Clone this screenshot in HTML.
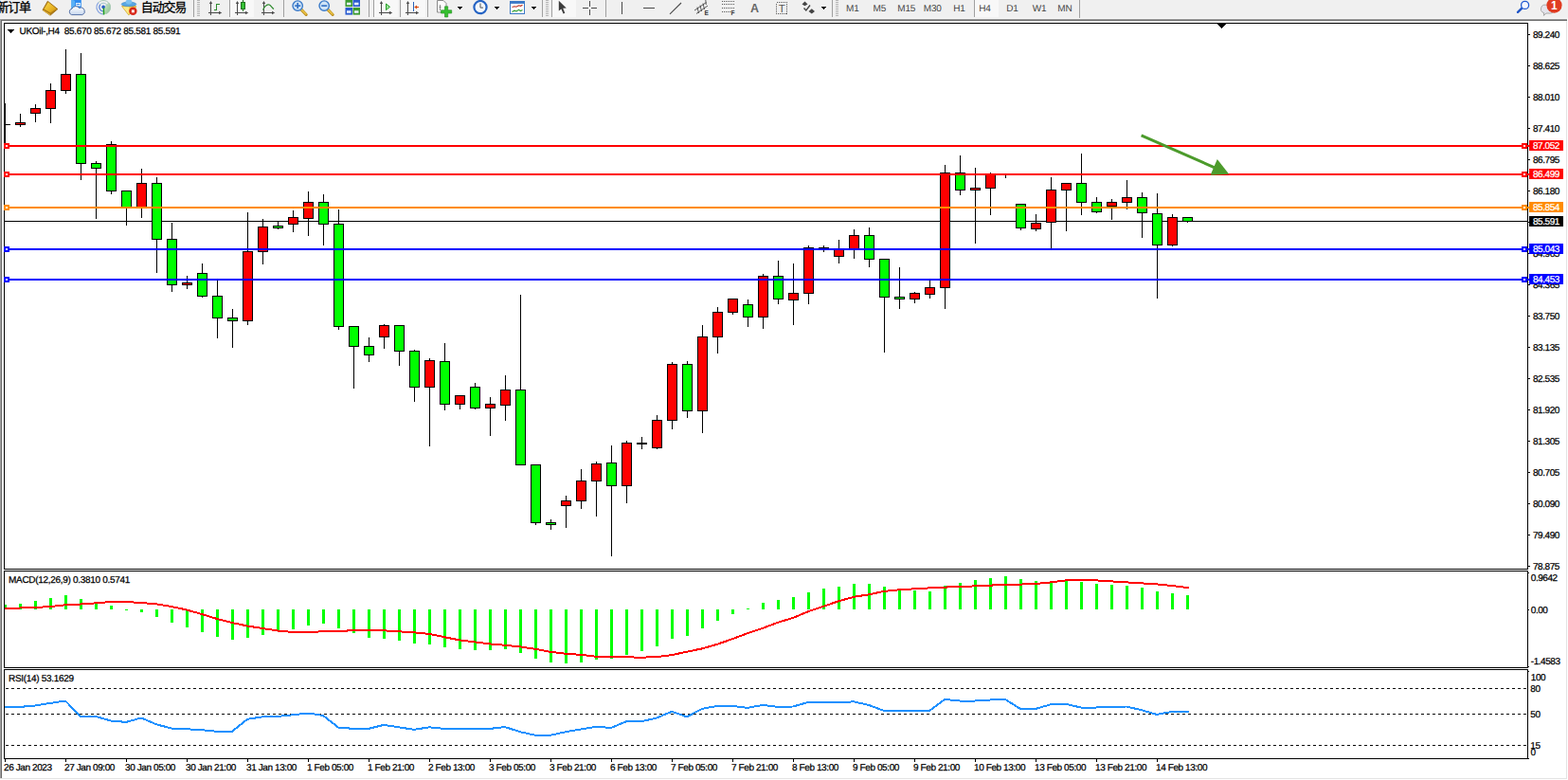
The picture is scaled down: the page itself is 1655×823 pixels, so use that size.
<!DOCTYPE html>
<html><head><meta charset="utf-8"><title>UKOil H4</title>
<style>
html,body{margin:0;padding:0;background:#fff;}
body{width:1655px;height:823px;position:relative;overflow:hidden;font-family:"Liberation Sans",sans-serif;}
.cv{position:absolute;left:0;top:0;}
#tb{position:absolute;left:0;top:0;width:1655px;height:19px;background:#f0f0f0;}
</style></head><body>
<div id="tb"></div>
<svg class="cv" width="1655" height="823" viewBox="0 0 1655 823" shape-rendering="crispEdges">
<rect x="0" y="20" width="1654" height="1" fill="#a0a0a0"/>
<rect x="1" y="21" width="1653" height="1" fill="#696969"/>
<rect x="0" y="20" width="1" height="801" fill="#a0a0a0"/>
<rect x="1" y="21" width="1" height="800" fill="#696969"/>
<rect x="1653" y="22" width="1" height="800" fill="#e3e3e3"/>
<rect x="0" y="821" width="1654" height="1" fill="#e3e3e3"/>
<rect x="0" y="19" width="1655" height="1" fill="#f8f8f8"/>
<rect x="4" y="24" width="1609" height="1" fill="#000"/>
<rect x="4" y="600" width="1609" height="1" fill="#000"/>
<rect x="4" y="24" width="1" height="577" fill="#000"/>
<rect x="1612" y="24" width="1" height="577" fill="#000"/>
<rect x="4" y="602" width="1609" height="1" fill="#000"/>
<rect x="4" y="704" width="1609" height="1" fill="#000"/>
<rect x="4" y="602" width="1" height="103" fill="#000"/>
<rect x="1612" y="602" width="1" height="103" fill="#000"/>
<rect x="4" y="706" width="1609" height="1" fill="#000"/>
<rect x="4" y="800" width="1609" height="1" fill="#000"/>
<rect x="4" y="706" width="1" height="95" fill="#000"/>
<rect x="1612" y="706" width="1" height="95" fill="#000"/>
<rect x="1285" y="25" width="9" height="1" fill="#000"/>
<rect x="1286" y="26" width="7" height="1" fill="#000"/>
<rect x="1287" y="27" width="5" height="1" fill="#000"/>
<rect x="1288" y="28" width="3" height="1" fill="#000"/>
<rect x="1289" y="29" width="1" height="1" fill="#000"/>
<rect x="8" y="31" width="7" height="1" fill="#000"/>
<rect x="9" y="32" width="5" height="1" fill="#000"/>
<rect x="10" y="33" width="3" height="1" fill="#000"/>
<rect x="11" y="34" width="1" height="1" fill="#000"/>
<rect x="1613" y="36" width="2" height="1" fill="#000"/>
<rect x="1613" y="69" width="2" height="1" fill="#000"/>
<rect x="1613" y="102" width="2" height="1" fill="#000"/>
<rect x="1613" y="135" width="2" height="1" fill="#000"/>
<rect x="1613" y="168" width="2" height="1" fill="#000"/>
<rect x="1613" y="201" width="2" height="1" fill="#000"/>
<rect x="1613" y="234" width="2" height="1" fill="#000"/>
<rect x="1613" y="267" width="2" height="1" fill="#000"/>
<rect x="1613" y="300" width="2" height="1" fill="#000"/>
<rect x="1613" y="333" width="2" height="1" fill="#000"/>
<rect x="1613" y="366" width="2" height="1" fill="#000"/>
<rect x="1613" y="399" width="2" height="1" fill="#000"/>
<rect x="1613" y="432" width="2" height="1" fill="#000"/>
<rect x="1613" y="465" width="2" height="1" fill="#000"/>
<rect x="1613" y="498" width="2" height="1" fill="#000"/>
<rect x="1613" y="531" width="2" height="1" fill="#000"/>
<rect x="1613" y="564" width="2" height="1" fill="#000"/>
<rect x="1613" y="597" width="2" height="1" fill="#000"/>
<rect x="1613" y="604" width="1" height="1" fill="#000"/>
<rect x="1613" y="643" width="1" height="1" fill="#000"/>
<rect x="1613" y="703" width="1" height="1" fill="#000"/>
<rect x="1613" y="708" width="1" height="1" fill="#000"/>
<rect x="1613" y="800" width="1" height="1" fill="#000"/>
<rect x="5" y="801" width="1" height="3" fill="#000"/>
<rect x="69" y="801" width="1" height="3" fill="#000"/>
<rect x="133" y="801" width="1" height="3" fill="#000"/>
<rect x="197" y="801" width="1" height="3" fill="#000"/>
<rect x="261" y="801" width="1" height="3" fill="#000"/>
<rect x="325" y="801" width="1" height="3" fill="#000"/>
<rect x="389" y="801" width="1" height="3" fill="#000"/>
<rect x="453" y="801" width="1" height="3" fill="#000"/>
<rect x="517" y="801" width="1" height="3" fill="#000"/>
<rect x="581" y="801" width="1" height="3" fill="#000"/>
<rect x="645" y="801" width="1" height="3" fill="#000"/>
<rect x="709" y="801" width="1" height="3" fill="#000"/>
<rect x="773" y="801" width="1" height="3" fill="#000"/>
<rect x="837" y="801" width="1" height="3" fill="#000"/>
<rect x="901" y="801" width="1" height="3" fill="#000"/>
<rect x="965" y="801" width="1" height="3" fill="#000"/>
<rect x="1029" y="801" width="1" height="3" fill="#000"/>
<rect x="1093" y="801" width="1" height="3" fill="#000"/>
<rect x="1157" y="801" width="1" height="3" fill="#000"/>
<rect x="1221" y="801" width="1" height="3" fill="#000"/>
<rect x="5" y="233" width="1607" height="1" fill="#000"/>
<rect x="5" y="109" width="1" height="44" fill="#000"/>
<rect x="5" y="131" width="6" height="1" fill="#000"/>
<rect x="21" y="120" width="1" height="14" fill="#000"/>
<rect x="16" y="129" width="11" height="3" fill="#000"/>
<rect x="17" y="130" width="9" height="1" fill="#ff0000"/>
<rect x="37" y="110" width="1" height="19" fill="#000"/>
<rect x="32" y="114" width="11" height="6" fill="#000"/>
<rect x="33" y="115" width="9" height="4" fill="#ff0000"/>
<rect x="53" y="88" width="1" height="42" fill="#000"/>
<rect x="48" y="95" width="11" height="20" fill="#000"/>
<rect x="49" y="96" width="9" height="18" fill="#ff0000"/>
<rect x="69" y="52" width="1" height="47" fill="#000"/>
<rect x="64" y="78" width="11" height="18" fill="#000"/>
<rect x="65" y="79" width="9" height="16" fill="#ff0000"/>
<rect x="85" y="56" width="1" height="134" fill="#000"/>
<rect x="80" y="78" width="11" height="95" fill="#000"/>
<rect x="81" y="79" width="9" height="93" fill="#00ff00"/>
<rect x="101" y="170" width="1" height="61" fill="#000"/>
<rect x="96" y="172" width="11" height="6" fill="#000"/>
<rect x="97" y="173" width="9" height="4" fill="#00ff00"/>
<rect x="117" y="149" width="1" height="56" fill="#000"/>
<rect x="112" y="152" width="11" height="50" fill="#000"/>
<rect x="113" y="153" width="9" height="48" fill="#00ff00"/>
<rect x="133" y="201" width="1" height="37" fill="#000"/>
<rect x="128" y="201" width="11" height="18" fill="#000"/>
<rect x="129" y="202" width="9" height="16" fill="#00ff00"/>
<rect x="149" y="178" width="1" height="52" fill="#000"/>
<rect x="144" y="193" width="11" height="26" fill="#000"/>
<rect x="145" y="194" width="9" height="24" fill="#ff0000"/>
<rect x="165" y="187" width="1" height="101" fill="#000"/>
<rect x="160" y="193" width="11" height="60" fill="#000"/>
<rect x="161" y="194" width="9" height="58" fill="#00ff00"/>
<rect x="181" y="235" width="1" height="73" fill="#000"/>
<rect x="176" y="252" width="11" height="49" fill="#000"/>
<rect x="177" y="253" width="9" height="47" fill="#00ff00"/>
<rect x="197" y="291" width="1" height="14" fill="#000"/>
<rect x="192" y="298" width="11" height="3" fill="#000"/>
<rect x="193" y="299" width="9" height="1" fill="#ff0000"/>
<rect x="213" y="278" width="1" height="36" fill="#000"/>
<rect x="208" y="288" width="11" height="25" fill="#000"/>
<rect x="209" y="289" width="9" height="23" fill="#00ff00"/>
<rect x="229" y="296" width="1" height="61" fill="#000"/>
<rect x="224" y="312" width="11" height="24" fill="#000"/>
<rect x="225" y="313" width="9" height="22" fill="#00ff00"/>
<rect x="245" y="326" width="1" height="41" fill="#000"/>
<rect x="240" y="335" width="11" height="4" fill="#000"/>
<rect x="241" y="336" width="9" height="2" fill="#00ff00"/>
<rect x="261" y="224" width="1" height="119" fill="#000"/>
<rect x="256" y="265" width="11" height="74" fill="#000"/>
<rect x="257" y="266" width="9" height="72" fill="#ff0000"/>
<rect x="277" y="231" width="1" height="48" fill="#000"/>
<rect x="272" y="239" width="11" height="27" fill="#000"/>
<rect x="273" y="240" width="9" height="25" fill="#ff0000"/>
<rect x="293" y="234" width="1" height="8" fill="#000"/>
<rect x="288" y="238" width="11" height="3" fill="#000"/>
<rect x="289" y="239" width="9" height="1" fill="#00ff00"/>
<rect x="309" y="222" width="1" height="23" fill="#000"/>
<rect x="304" y="229" width="11" height="8" fill="#000"/>
<rect x="305" y="230" width="9" height="6" fill="#ff0000"/>
<rect x="325" y="202" width="1" height="47" fill="#000"/>
<rect x="320" y="213" width="11" height="18" fill="#000"/>
<rect x="321" y="214" width="9" height="16" fill="#ff0000"/>
<rect x="341" y="205" width="1" height="54" fill="#000"/>
<rect x="336" y="213" width="11" height="24" fill="#000"/>
<rect x="337" y="214" width="9" height="22" fill="#00ff00"/>
<rect x="357" y="221" width="1" height="127" fill="#000"/>
<rect x="352" y="236" width="11" height="109" fill="#000"/>
<rect x="353" y="237" width="9" height="107" fill="#00ff00"/>
<rect x="373" y="344" width="1" height="66" fill="#000"/>
<rect x="368" y="344" width="11" height="22" fill="#000"/>
<rect x="369" y="345" width="9" height="20" fill="#00ff00"/>
<rect x="389" y="356" width="1" height="26" fill="#000"/>
<rect x="384" y="365" width="11" height="10" fill="#000"/>
<rect x="385" y="366" width="9" height="8" fill="#00ff00"/>
<rect x="405" y="342" width="1" height="26" fill="#000"/>
<rect x="400" y="343" width="11" height="13" fill="#000"/>
<rect x="401" y="344" width="9" height="11" fill="#ff0000"/>
<rect x="421" y="343" width="1" height="43" fill="#000"/>
<rect x="416" y="343" width="11" height="28" fill="#000"/>
<rect x="417" y="344" width="9" height="26" fill="#00ff00"/>
<rect x="437" y="369" width="1" height="55" fill="#000"/>
<rect x="432" y="370" width="11" height="39" fill="#000"/>
<rect x="433" y="371" width="9" height="37" fill="#00ff00"/>
<rect x="453" y="378" width="1" height="93" fill="#000"/>
<rect x="448" y="380" width="11" height="29" fill="#000"/>
<rect x="449" y="381" width="9" height="27" fill="#ff0000"/>
<rect x="469" y="362" width="1" height="71" fill="#000"/>
<rect x="464" y="381" width="11" height="46" fill="#000"/>
<rect x="465" y="382" width="9" height="44" fill="#00ff00"/>
<rect x="485" y="417" width="1" height="15" fill="#000"/>
<rect x="480" y="417" width="11" height="10" fill="#000"/>
<rect x="481" y="418" width="9" height="8" fill="#ff0000"/>
<rect x="501" y="404" width="1" height="28" fill="#000"/>
<rect x="496" y="408" width="11" height="23" fill="#000"/>
<rect x="497" y="409" width="9" height="21" fill="#00ff00"/>
<rect x="517" y="419" width="1" height="41" fill="#000"/>
<rect x="512" y="426" width="11" height="5" fill="#000"/>
<rect x="513" y="427" width="9" height="3" fill="#ff0000"/>
<rect x="533" y="396" width="1" height="48" fill="#000"/>
<rect x="528" y="411" width="11" height="17" fill="#000"/>
<rect x="529" y="412" width="9" height="15" fill="#ff0000"/>
<rect x="549" y="311" width="1" height="180" fill="#000"/>
<rect x="544" y="411" width="11" height="80" fill="#000"/>
<rect x="545" y="412" width="9" height="78" fill="#00ff00"/>
<rect x="565" y="490" width="1" height="64" fill="#000"/>
<rect x="560" y="490" width="11" height="62" fill="#000"/>
<rect x="561" y="491" width="9" height="60" fill="#00ff00"/>
<rect x="581" y="548" width="1" height="11" fill="#000"/>
<rect x="576" y="551" width="11" height="3" fill="#000"/>
<rect x="577" y="552" width="9" height="1" fill="#00ff00"/>
<rect x="597" y="523" width="1" height="34" fill="#000"/>
<rect x="592" y="528" width="11" height="6" fill="#000"/>
<rect x="593" y="529" width="9" height="4" fill="#ff0000"/>
<rect x="613" y="495" width="1" height="42" fill="#000"/>
<rect x="608" y="507" width="11" height="22" fill="#000"/>
<rect x="609" y="508" width="9" height="20" fill="#ff0000"/>
<rect x="629" y="487" width="1" height="58" fill="#000"/>
<rect x="624" y="489" width="11" height="19" fill="#000"/>
<rect x="625" y="490" width="9" height="17" fill="#ff0000"/>
<rect x="645" y="470" width="1" height="117" fill="#000"/>
<rect x="640" y="488" width="11" height="25" fill="#000"/>
<rect x="641" y="489" width="9" height="23" fill="#00ff00"/>
<rect x="661" y="465" width="1" height="66" fill="#000"/>
<rect x="656" y="467" width="11" height="46" fill="#000"/>
<rect x="657" y="468" width="9" height="44" fill="#ff0000"/>
<rect x="677" y="461" width="1" height="13" fill="#000"/>
<rect x="672" y="467" width="11" height="2" fill="#000"/>
<rect x="693" y="438" width="1" height="36" fill="#000"/>
<rect x="688" y="443" width="11" height="30" fill="#000"/>
<rect x="689" y="444" width="9" height="28" fill="#ff0000"/>
<rect x="709" y="382" width="1" height="71" fill="#000"/>
<rect x="704" y="384" width="11" height="60" fill="#000"/>
<rect x="705" y="385" width="9" height="58" fill="#ff0000"/>
<rect x="725" y="381" width="1" height="60" fill="#000"/>
<rect x="720" y="384" width="11" height="50" fill="#000"/>
<rect x="721" y="385" width="9" height="48" fill="#00ff00"/>
<rect x="741" y="343" width="1" height="114" fill="#000"/>
<rect x="736" y="355" width="11" height="79" fill="#000"/>
<rect x="737" y="356" width="9" height="77" fill="#ff0000"/>
<rect x="757" y="324" width="1" height="49" fill="#000"/>
<rect x="752" y="329" width="11" height="27" fill="#000"/>
<rect x="753" y="330" width="9" height="25" fill="#ff0000"/>
<rect x="773" y="315" width="1" height="17" fill="#000"/>
<rect x="768" y="315" width="11" height="15" fill="#000"/>
<rect x="769" y="316" width="9" height="13" fill="#ff0000"/>
<rect x="789" y="316" width="1" height="29" fill="#000"/>
<rect x="784" y="321" width="11" height="14" fill="#000"/>
<rect x="785" y="322" width="9" height="12" fill="#00ff00"/>
<rect x="805" y="289" width="1" height="58" fill="#000"/>
<rect x="800" y="291" width="11" height="44" fill="#000"/>
<rect x="801" y="292" width="9" height="42" fill="#ff0000"/>
<rect x="821" y="275" width="1" height="46" fill="#000"/>
<rect x="816" y="291" width="11" height="25" fill="#000"/>
<rect x="817" y="292" width="9" height="23" fill="#00ff00"/>
<rect x="837" y="278" width="1" height="65" fill="#000"/>
<rect x="832" y="309" width="11" height="8" fill="#000"/>
<rect x="833" y="310" width="9" height="6" fill="#ff0000"/>
<rect x="853" y="259" width="1" height="62" fill="#000"/>
<rect x="848" y="261" width="11" height="49" fill="#000"/>
<rect x="849" y="262" width="9" height="47" fill="#ff0000"/>
<rect x="869" y="259" width="1" height="7" fill="#000"/>
<rect x="864" y="261" width="11" height="2" fill="#000"/>
<rect x="885" y="253" width="1" height="25" fill="#000"/>
<rect x="880" y="262" width="11" height="9" fill="#000"/>
<rect x="881" y="263" width="9" height="7" fill="#ff0000"/>
<rect x="901" y="242" width="1" height="31" fill="#000"/>
<rect x="896" y="248" width="11" height="15" fill="#000"/>
<rect x="897" y="249" width="9" height="13" fill="#ff0000"/>
<rect x="917" y="240" width="1" height="42" fill="#000"/>
<rect x="912" y="248" width="11" height="26" fill="#000"/>
<rect x="913" y="249" width="9" height="24" fill="#00ff00"/>
<rect x="933" y="273" width="1" height="99" fill="#000"/>
<rect x="928" y="273" width="11" height="41" fill="#000"/>
<rect x="929" y="274" width="9" height="39" fill="#00ff00"/>
<rect x="949" y="282" width="1" height="44" fill="#000"/>
<rect x="944" y="313" width="11" height="3" fill="#000"/>
<rect x="945" y="314" width="9" height="1" fill="#00ff00"/>
<rect x="965" y="308" width="1" height="12" fill="#000"/>
<rect x="960" y="309" width="11" height="7" fill="#000"/>
<rect x="961" y="310" width="9" height="5" fill="#ff0000"/>
<rect x="981" y="296" width="1" height="19" fill="#000"/>
<rect x="976" y="303" width="11" height="8" fill="#000"/>
<rect x="977" y="304" width="9" height="6" fill="#ff0000"/>
<rect x="997" y="174" width="1" height="152" fill="#000"/>
<rect x="992" y="182" width="11" height="122" fill="#000"/>
<rect x="993" y="183" width="9" height="120" fill="#ff0000"/>
<rect x="1013" y="164" width="1" height="42" fill="#000"/>
<rect x="1008" y="182" width="11" height="19" fill="#000"/>
<rect x="1009" y="183" width="9" height="17" fill="#00ff00"/>
<rect x="1029" y="177" width="1" height="80" fill="#000"/>
<rect x="1024" y="198" width="11" height="3" fill="#000"/>
<rect x="1025" y="199" width="9" height="1" fill="#ff0000"/>
<rect x="1045" y="182" width="1" height="45" fill="#000"/>
<rect x="1040" y="183" width="11" height="16" fill="#000"/>
<rect x="1041" y="184" width="9" height="14" fill="#ff0000"/>
<rect x="1061" y="183" width="1" height="5" fill="#000"/>
<rect x="1056" y="184" width="11" height="1" fill="#000"/>
<rect x="1077" y="215" width="1" height="28" fill="#000"/>
<rect x="1072" y="215" width="11" height="26" fill="#000"/>
<rect x="1073" y="216" width="9" height="24" fill="#00ff00"/>
<rect x="1093" y="226" width="1" height="18" fill="#000"/>
<rect x="1088" y="235" width="11" height="7" fill="#000"/>
<rect x="1089" y="236" width="9" height="5" fill="#ff0000"/>
<rect x="1109" y="187" width="1" height="76" fill="#000"/>
<rect x="1104" y="200" width="11" height="35" fill="#000"/>
<rect x="1105" y="201" width="9" height="33" fill="#ff0000"/>
<rect x="1125" y="193" width="1" height="51" fill="#000"/>
<rect x="1120" y="193" width="11" height="8" fill="#000"/>
<rect x="1121" y="194" width="9" height="6" fill="#ff0000"/>
<rect x="1141" y="162" width="1" height="65" fill="#000"/>
<rect x="1136" y="193" width="11" height="21" fill="#000"/>
<rect x="1137" y="194" width="9" height="19" fill="#00ff00"/>
<rect x="1157" y="208" width="1" height="17" fill="#000"/>
<rect x="1152" y="213" width="11" height="11" fill="#000"/>
<rect x="1153" y="214" width="9" height="9" fill="#00ff00"/>
<rect x="1173" y="210" width="1" height="22" fill="#000"/>
<rect x="1168" y="213" width="11" height="5" fill="#000"/>
<rect x="1169" y="214" width="9" height="3" fill="#ff0000"/>
<rect x="1189" y="190" width="1" height="31" fill="#000"/>
<rect x="1184" y="208" width="11" height="6" fill="#000"/>
<rect x="1185" y="209" width="9" height="4" fill="#ff0000"/>
<rect x="1205" y="203" width="1" height="48" fill="#000"/>
<rect x="1200" y="208" width="11" height="17" fill="#000"/>
<rect x="1201" y="209" width="9" height="15" fill="#00ff00"/>
<rect x="1221" y="204" width="1" height="111" fill="#000"/>
<rect x="1216" y="225" width="11" height="34" fill="#000"/>
<rect x="1217" y="226" width="9" height="32" fill="#00ff00"/>
<rect x="1237" y="226" width="1" height="34" fill="#000"/>
<rect x="1232" y="229" width="11" height="30" fill="#000"/>
<rect x="1233" y="230" width="9" height="28" fill="#ff0000"/>
<rect x="1253" y="229" width="1" height="6" fill="#000"/>
<rect x="1248" y="229" width="11" height="5" fill="#000"/>
<rect x="1249" y="230" width="9" height="3" fill="#00ff00"/>
<g font-family="Liberation Sans, sans-serif" font-size="10" letter-spacing="-0.45" text-rendering="geometricPrecision">
<text x="1618" y="40" fill="#000" stroke="#000" stroke-width="0.25">89.240</text>
<text x="1618" y="73" fill="#000" stroke="#000" stroke-width="0.25">88.625</text>
<text x="1618" y="106" fill="#000" stroke="#000" stroke-width="0.25">88.010</text>
<text x="1618" y="139" fill="#000" stroke="#000" stroke-width="0.25">87.410</text>
<text x="1618" y="172" fill="#000" stroke="#000" stroke-width="0.25">86.795</text>
<text x="1618" y="205" fill="#000" stroke="#000" stroke-width="0.25">86.180</text>
<text x="1618" y="238" fill="#000" stroke="#000" stroke-width="0.25">85.565</text>
<text x="1618" y="271" fill="#000" stroke="#000" stroke-width="0.25">84.965</text>
<text x="1618" y="304" fill="#000" stroke="#000" stroke-width="0.25">84.365</text>
<text x="1618" y="337" fill="#000" stroke="#000" stroke-width="0.25">83.750</text>
<text x="1618" y="370" fill="#000" stroke="#000" stroke-width="0.25">83.135</text>
<text x="1618" y="403" fill="#000" stroke="#000" stroke-width="0.25">82.535</text>
<text x="1618" y="436" fill="#000" stroke="#000" stroke-width="0.25">81.920</text>
<text x="1618" y="469" fill="#000" stroke="#000" stroke-width="0.25">81.305</text>
<text x="1618" y="502" fill="#000" stroke="#000" stroke-width="0.25">80.705</text>
<text x="1618" y="535" fill="#000" stroke="#000" stroke-width="0.25">80.090</text>
<text x="1618" y="568" fill="#000" stroke="#000" stroke-width="0.25">79.490</text>
<text x="1618" y="601" fill="#000" stroke="#000" stroke-width="0.25">78.875</text>
</g>
<rect x="5" y="153" width="1609" height="2" fill="#ff0000"/>
<rect x="4" y="151" width="6" height="6" fill="#ff0000"/>
<rect x="6" y="153" width="2" height="2" fill="#fff"/>
<rect x="1606" y="151" width="6" height="6" fill="#ff0000"/>
<rect x="1608" y="153" width="2" height="2" fill="#fff"/>
<rect x="1614" y="148" width="36" height="11" fill="#ff0000"/>
<rect x="5" y="183" width="1609" height="2" fill="#ff0000"/>
<rect x="4" y="181" width="6" height="6" fill="#ff0000"/>
<rect x="6" y="183" width="2" height="2" fill="#fff"/>
<rect x="1606" y="181" width="6" height="6" fill="#ff0000"/>
<rect x="1608" y="183" width="2" height="2" fill="#fff"/>
<rect x="1614" y="178" width="36" height="11" fill="#ff0000"/>
<rect x="5" y="218" width="1609" height="2" fill="#ff8c00"/>
<rect x="4" y="216" width="6" height="6" fill="#ff8c00"/>
<rect x="6" y="218" width="2" height="2" fill="#fff"/>
<rect x="1606" y="216" width="6" height="6" fill="#ff8c00"/>
<rect x="1608" y="218" width="2" height="2" fill="#fff"/>
<rect x="1614" y="213" width="36" height="11" fill="#ff8c00"/>
<rect x="5" y="262" width="1609" height="2" fill="#0000ff"/>
<rect x="4" y="260" width="6" height="6" fill="#0000ff"/>
<rect x="6" y="262" width="2" height="2" fill="#fff"/>
<rect x="1606" y="260" width="6" height="6" fill="#0000ff"/>
<rect x="1608" y="262" width="2" height="2" fill="#fff"/>
<rect x="1614" y="257" width="36" height="11" fill="#0000ff"/>
<rect x="5" y="294" width="1609" height="2" fill="#0000ff"/>
<rect x="4" y="292" width="6" height="6" fill="#0000ff"/>
<rect x="6" y="294" width="2" height="2" fill="#fff"/>
<rect x="1606" y="292" width="6" height="6" fill="#0000ff"/>
<rect x="1608" y="294" width="2" height="2" fill="#fff"/>
<rect x="1614" y="289" width="36" height="11" fill="#0000ff"/>
<rect x="1614" y="228" width="36" height="11" fill="#000"/>
<rect x="5" y="638" width="2" height="5" fill="#00ff00"/>
<rect x="20" y="637" width="3" height="6" fill="#00ff00"/>
<rect x="36" y="634" width="3" height="9" fill="#00ff00"/>
<rect x="52" y="631" width="3" height="12" fill="#00ff00"/>
<rect x="68" y="628" width="3" height="15" fill="#00ff00"/>
<rect x="84" y="632" width="3" height="11" fill="#00ff00"/>
<rect x="100" y="635" width="3" height="8" fill="#00ff00"/>
<rect x="116" y="639" width="3" height="4" fill="#00ff00"/>
<rect x="132" y="643" width="3" height="1" fill="#00ff00"/>
<rect x="148" y="643" width="3" height="3" fill="#00ff00"/>
<rect x="164" y="643" width="3" height="8" fill="#00ff00"/>
<rect x="180" y="643" width="3" height="14" fill="#00ff00"/>
<rect x="196" y="643" width="3" height="19" fill="#00ff00"/>
<rect x="212" y="643" width="3" height="24" fill="#00ff00"/>
<rect x="228" y="643" width="3" height="29" fill="#00ff00"/>
<rect x="244" y="643" width="3" height="32" fill="#00ff00"/>
<rect x="260" y="643" width="3" height="30" fill="#00ff00"/>
<rect x="276" y="643" width="3" height="27" fill="#00ff00"/>
<rect x="292" y="643" width="3" height="23" fill="#00ff00"/>
<rect x="308" y="643" width="3" height="21" fill="#00ff00"/>
<rect x="324" y="643" width="3" height="17" fill="#00ff00"/>
<rect x="340" y="643" width="3" height="15" fill="#00ff00"/>
<rect x="356" y="643" width="3" height="20" fill="#00ff00"/>
<rect x="372" y="643" width="3" height="25" fill="#00ff00"/>
<rect x="388" y="643" width="3" height="30" fill="#00ff00"/>
<rect x="404" y="643" width="3" height="31" fill="#00ff00"/>
<rect x="420" y="643" width="3" height="33" fill="#00ff00"/>
<rect x="436" y="643" width="3" height="36" fill="#00ff00"/>
<rect x="452" y="643" width="3" height="37" fill="#00ff00"/>
<rect x="468" y="643" width="3" height="40" fill="#00ff00"/>
<rect x="484" y="643" width="3" height="42" fill="#00ff00"/>
<rect x="500" y="643" width="3" height="43" fill="#00ff00"/>
<rect x="516" y="643" width="3" height="43" fill="#00ff00"/>
<rect x="532" y="643" width="3" height="42" fill="#00ff00"/>
<rect x="548" y="643" width="3" height="46" fill="#00ff00"/>
<rect x="564" y="643" width="3" height="52" fill="#00ff00"/>
<rect x="580" y="643" width="3" height="56" fill="#00ff00"/>
<rect x="596" y="643" width="3" height="57" fill="#00ff00"/>
<rect x="612" y="643" width="3" height="56" fill="#00ff00"/>
<rect x="628" y="643" width="3" height="53" fill="#00ff00"/>
<rect x="644" y="643" width="3" height="52" fill="#00ff00"/>
<rect x="660" y="643" width="3" height="48" fill="#00ff00"/>
<rect x="676" y="643" width="3" height="44" fill="#00ff00"/>
<rect x="692" y="643" width="3" height="39" fill="#00ff00"/>
<rect x="708" y="643" width="3" height="31" fill="#00ff00"/>
<rect x="724" y="643" width="3" height="28" fill="#00ff00"/>
<rect x="740" y="643" width="3" height="20" fill="#00ff00"/>
<rect x="756" y="643" width="3" height="12" fill="#00ff00"/>
<rect x="772" y="643" width="3" height="5" fill="#00ff00"/>
<rect x="788" y="642" width="3" height="1" fill="#00ff00"/>
<rect x="804" y="636" width="3" height="7" fill="#00ff00"/>
<rect x="820" y="633" width="3" height="10" fill="#00ff00"/>
<rect x="836" y="630" width="3" height="13" fill="#00ff00"/>
<rect x="852" y="625" width="3" height="18" fill="#00ff00"/>
<rect x="868" y="621" width="3" height="22" fill="#00ff00"/>
<rect x="884" y="619" width="3" height="24" fill="#00ff00"/>
<rect x="900" y="616" width="3" height="27" fill="#00ff00"/>
<rect x="916" y="616" width="3" height="27" fill="#00ff00"/>
<rect x="932" y="619" width="3" height="24" fill="#00ff00"/>
<rect x="948" y="621" width="3" height="22" fill="#00ff00"/>
<rect x="964" y="623" width="3" height="20" fill="#00ff00"/>
<rect x="980" y="624" width="3" height="19" fill="#00ff00"/>
<rect x="996" y="618" width="3" height="25" fill="#00ff00"/>
<rect x="1012" y="615" width="3" height="28" fill="#00ff00"/>
<rect x="1028" y="612" width="3" height="31" fill="#00ff00"/>
<rect x="1044" y="610" width="3" height="33" fill="#00ff00"/>
<rect x="1060" y="608" width="3" height="35" fill="#00ff00"/>
<rect x="1076" y="611" width="3" height="32" fill="#00ff00"/>
<rect x="1092" y="613" width="3" height="30" fill="#00ff00"/>
<rect x="1108" y="613" width="3" height="30" fill="#00ff00"/>
<rect x="1124" y="612" width="3" height="31" fill="#00ff00"/>
<rect x="1140" y="614" width="3" height="29" fill="#00ff00"/>
<rect x="1156" y="616" width="3" height="27" fill="#00ff00"/>
<rect x="1172" y="617" width="3" height="26" fill="#00ff00"/>
<rect x="1188" y="618" width="3" height="25" fill="#00ff00"/>
<rect x="1204" y="620" width="3" height="23" fill="#00ff00"/>
<rect x="1220" y="624" width="3" height="19" fill="#00ff00"/>
<rect x="1236" y="626" width="3" height="17" fill="#00ff00"/>
<rect x="1252" y="628" width="3" height="15" fill="#00ff00"/>
<rect x="6" y="726" width="3" height="1" fill="#000"/>
<rect x="12" y="726" width="3" height="1" fill="#000"/>
<rect x="18" y="726" width="3" height="1" fill="#000"/>
<rect x="24" y="726" width="3" height="1" fill="#000"/>
<rect x="30" y="726" width="3" height="1" fill="#000"/>
<rect x="36" y="726" width="3" height="1" fill="#000"/>
<rect x="42" y="726" width="3" height="1" fill="#000"/>
<rect x="48" y="726" width="3" height="1" fill="#000"/>
<rect x="54" y="726" width="3" height="1" fill="#000"/>
<rect x="60" y="726" width="3" height="1" fill="#000"/>
<rect x="66" y="726" width="3" height="1" fill="#000"/>
<rect x="72" y="726" width="3" height="1" fill="#000"/>
<rect x="78" y="726" width="3" height="1" fill="#000"/>
<rect x="84" y="726" width="3" height="1" fill="#000"/>
<rect x="90" y="726" width="3" height="1" fill="#000"/>
<rect x="96" y="726" width="3" height="1" fill="#000"/>
<rect x="102" y="726" width="3" height="1" fill="#000"/>
<rect x="108" y="726" width="3" height="1" fill="#000"/>
<rect x="114" y="726" width="3" height="1" fill="#000"/>
<rect x="120" y="726" width="3" height="1" fill="#000"/>
<rect x="126" y="726" width="3" height="1" fill="#000"/>
<rect x="132" y="726" width="3" height="1" fill="#000"/>
<rect x="138" y="726" width="3" height="1" fill="#000"/>
<rect x="144" y="726" width="3" height="1" fill="#000"/>
<rect x="150" y="726" width="3" height="1" fill="#000"/>
<rect x="156" y="726" width="3" height="1" fill="#000"/>
<rect x="162" y="726" width="3" height="1" fill="#000"/>
<rect x="168" y="726" width="3" height="1" fill="#000"/>
<rect x="174" y="726" width="3" height="1" fill="#000"/>
<rect x="180" y="726" width="3" height="1" fill="#000"/>
<rect x="186" y="726" width="3" height="1" fill="#000"/>
<rect x="192" y="726" width="3" height="1" fill="#000"/>
<rect x="198" y="726" width="3" height="1" fill="#000"/>
<rect x="204" y="726" width="3" height="1" fill="#000"/>
<rect x="210" y="726" width="3" height="1" fill="#000"/>
<rect x="216" y="726" width="3" height="1" fill="#000"/>
<rect x="222" y="726" width="3" height="1" fill="#000"/>
<rect x="228" y="726" width="3" height="1" fill="#000"/>
<rect x="234" y="726" width="3" height="1" fill="#000"/>
<rect x="240" y="726" width="3" height="1" fill="#000"/>
<rect x="246" y="726" width="3" height="1" fill="#000"/>
<rect x="252" y="726" width="3" height="1" fill="#000"/>
<rect x="258" y="726" width="3" height="1" fill="#000"/>
<rect x="264" y="726" width="3" height="1" fill="#000"/>
<rect x="270" y="726" width="3" height="1" fill="#000"/>
<rect x="276" y="726" width="3" height="1" fill="#000"/>
<rect x="282" y="726" width="3" height="1" fill="#000"/>
<rect x="288" y="726" width="3" height="1" fill="#000"/>
<rect x="294" y="726" width="3" height="1" fill="#000"/>
<rect x="300" y="726" width="3" height="1" fill="#000"/>
<rect x="306" y="726" width="3" height="1" fill="#000"/>
<rect x="312" y="726" width="3" height="1" fill="#000"/>
<rect x="318" y="726" width="3" height="1" fill="#000"/>
<rect x="324" y="726" width="3" height="1" fill="#000"/>
<rect x="330" y="726" width="3" height="1" fill="#000"/>
<rect x="336" y="726" width="3" height="1" fill="#000"/>
<rect x="342" y="726" width="3" height="1" fill="#000"/>
<rect x="348" y="726" width="3" height="1" fill="#000"/>
<rect x="354" y="726" width="3" height="1" fill="#000"/>
<rect x="360" y="726" width="3" height="1" fill="#000"/>
<rect x="366" y="726" width="3" height="1" fill="#000"/>
<rect x="372" y="726" width="3" height="1" fill="#000"/>
<rect x="378" y="726" width="3" height="1" fill="#000"/>
<rect x="384" y="726" width="3" height="1" fill="#000"/>
<rect x="390" y="726" width="3" height="1" fill="#000"/>
<rect x="396" y="726" width="3" height="1" fill="#000"/>
<rect x="402" y="726" width="3" height="1" fill="#000"/>
<rect x="408" y="726" width="3" height="1" fill="#000"/>
<rect x="414" y="726" width="3" height="1" fill="#000"/>
<rect x="420" y="726" width="3" height="1" fill="#000"/>
<rect x="426" y="726" width="3" height="1" fill="#000"/>
<rect x="432" y="726" width="3" height="1" fill="#000"/>
<rect x="438" y="726" width="3" height="1" fill="#000"/>
<rect x="444" y="726" width="3" height="1" fill="#000"/>
<rect x="450" y="726" width="3" height="1" fill="#000"/>
<rect x="456" y="726" width="3" height="1" fill="#000"/>
<rect x="462" y="726" width="3" height="1" fill="#000"/>
<rect x="468" y="726" width="3" height="1" fill="#000"/>
<rect x="474" y="726" width="3" height="1" fill="#000"/>
<rect x="480" y="726" width="3" height="1" fill="#000"/>
<rect x="486" y="726" width="3" height="1" fill="#000"/>
<rect x="492" y="726" width="3" height="1" fill="#000"/>
<rect x="498" y="726" width="3" height="1" fill="#000"/>
<rect x="504" y="726" width="3" height="1" fill="#000"/>
<rect x="510" y="726" width="3" height="1" fill="#000"/>
<rect x="516" y="726" width="3" height="1" fill="#000"/>
<rect x="522" y="726" width="3" height="1" fill="#000"/>
<rect x="528" y="726" width="3" height="1" fill="#000"/>
<rect x="534" y="726" width="3" height="1" fill="#000"/>
<rect x="540" y="726" width="3" height="1" fill="#000"/>
<rect x="546" y="726" width="3" height="1" fill="#000"/>
<rect x="552" y="726" width="3" height="1" fill="#000"/>
<rect x="558" y="726" width="3" height="1" fill="#000"/>
<rect x="564" y="726" width="3" height="1" fill="#000"/>
<rect x="570" y="726" width="3" height="1" fill="#000"/>
<rect x="576" y="726" width="3" height="1" fill="#000"/>
<rect x="582" y="726" width="3" height="1" fill="#000"/>
<rect x="588" y="726" width="3" height="1" fill="#000"/>
<rect x="594" y="726" width="3" height="1" fill="#000"/>
<rect x="600" y="726" width="3" height="1" fill="#000"/>
<rect x="606" y="726" width="3" height="1" fill="#000"/>
<rect x="612" y="726" width="3" height="1" fill="#000"/>
<rect x="618" y="726" width="3" height="1" fill="#000"/>
<rect x="624" y="726" width="3" height="1" fill="#000"/>
<rect x="630" y="726" width="3" height="1" fill="#000"/>
<rect x="636" y="726" width="3" height="1" fill="#000"/>
<rect x="642" y="726" width="3" height="1" fill="#000"/>
<rect x="648" y="726" width="3" height="1" fill="#000"/>
<rect x="654" y="726" width="3" height="1" fill="#000"/>
<rect x="660" y="726" width="3" height="1" fill="#000"/>
<rect x="666" y="726" width="3" height="1" fill="#000"/>
<rect x="672" y="726" width="3" height="1" fill="#000"/>
<rect x="678" y="726" width="3" height="1" fill="#000"/>
<rect x="684" y="726" width="3" height="1" fill="#000"/>
<rect x="690" y="726" width="3" height="1" fill="#000"/>
<rect x="696" y="726" width="3" height="1" fill="#000"/>
<rect x="702" y="726" width="3" height="1" fill="#000"/>
<rect x="708" y="726" width="3" height="1" fill="#000"/>
<rect x="714" y="726" width="3" height="1" fill="#000"/>
<rect x="720" y="726" width="3" height="1" fill="#000"/>
<rect x="726" y="726" width="3" height="1" fill="#000"/>
<rect x="732" y="726" width="3" height="1" fill="#000"/>
<rect x="738" y="726" width="3" height="1" fill="#000"/>
<rect x="744" y="726" width="3" height="1" fill="#000"/>
<rect x="750" y="726" width="3" height="1" fill="#000"/>
<rect x="756" y="726" width="3" height="1" fill="#000"/>
<rect x="762" y="726" width="3" height="1" fill="#000"/>
<rect x="768" y="726" width="3" height="1" fill="#000"/>
<rect x="774" y="726" width="3" height="1" fill="#000"/>
<rect x="780" y="726" width="3" height="1" fill="#000"/>
<rect x="786" y="726" width="3" height="1" fill="#000"/>
<rect x="792" y="726" width="3" height="1" fill="#000"/>
<rect x="798" y="726" width="3" height="1" fill="#000"/>
<rect x="804" y="726" width="3" height="1" fill="#000"/>
<rect x="810" y="726" width="3" height="1" fill="#000"/>
<rect x="816" y="726" width="3" height="1" fill="#000"/>
<rect x="822" y="726" width="3" height="1" fill="#000"/>
<rect x="828" y="726" width="3" height="1" fill="#000"/>
<rect x="834" y="726" width="3" height="1" fill="#000"/>
<rect x="840" y="726" width="3" height="1" fill="#000"/>
<rect x="846" y="726" width="3" height="1" fill="#000"/>
<rect x="852" y="726" width="3" height="1" fill="#000"/>
<rect x="858" y="726" width="3" height="1" fill="#000"/>
<rect x="864" y="726" width="3" height="1" fill="#000"/>
<rect x="870" y="726" width="3" height="1" fill="#000"/>
<rect x="876" y="726" width="3" height="1" fill="#000"/>
<rect x="882" y="726" width="3" height="1" fill="#000"/>
<rect x="888" y="726" width="3" height="1" fill="#000"/>
<rect x="894" y="726" width="3" height="1" fill="#000"/>
<rect x="900" y="726" width="3" height="1" fill="#000"/>
<rect x="906" y="726" width="3" height="1" fill="#000"/>
<rect x="912" y="726" width="3" height="1" fill="#000"/>
<rect x="918" y="726" width="3" height="1" fill="#000"/>
<rect x="924" y="726" width="3" height="1" fill="#000"/>
<rect x="930" y="726" width="3" height="1" fill="#000"/>
<rect x="936" y="726" width="3" height="1" fill="#000"/>
<rect x="942" y="726" width="3" height="1" fill="#000"/>
<rect x="948" y="726" width="3" height="1" fill="#000"/>
<rect x="954" y="726" width="3" height="1" fill="#000"/>
<rect x="960" y="726" width="3" height="1" fill="#000"/>
<rect x="966" y="726" width="3" height="1" fill="#000"/>
<rect x="972" y="726" width="3" height="1" fill="#000"/>
<rect x="978" y="726" width="3" height="1" fill="#000"/>
<rect x="984" y="726" width="3" height="1" fill="#000"/>
<rect x="990" y="726" width="3" height="1" fill="#000"/>
<rect x="996" y="726" width="3" height="1" fill="#000"/>
<rect x="1002" y="726" width="3" height="1" fill="#000"/>
<rect x="1008" y="726" width="3" height="1" fill="#000"/>
<rect x="1014" y="726" width="3" height="1" fill="#000"/>
<rect x="1020" y="726" width="3" height="1" fill="#000"/>
<rect x="1026" y="726" width="3" height="1" fill="#000"/>
<rect x="1032" y="726" width="3" height="1" fill="#000"/>
<rect x="1038" y="726" width="3" height="1" fill="#000"/>
<rect x="1044" y="726" width="3" height="1" fill="#000"/>
<rect x="1050" y="726" width="3" height="1" fill="#000"/>
<rect x="1056" y="726" width="3" height="1" fill="#000"/>
<rect x="1062" y="726" width="3" height="1" fill="#000"/>
<rect x="1068" y="726" width="3" height="1" fill="#000"/>
<rect x="1074" y="726" width="3" height="1" fill="#000"/>
<rect x="1080" y="726" width="3" height="1" fill="#000"/>
<rect x="1086" y="726" width="3" height="1" fill="#000"/>
<rect x="1092" y="726" width="3" height="1" fill="#000"/>
<rect x="1098" y="726" width="3" height="1" fill="#000"/>
<rect x="1104" y="726" width="3" height="1" fill="#000"/>
<rect x="1110" y="726" width="3" height="1" fill="#000"/>
<rect x="1116" y="726" width="3" height="1" fill="#000"/>
<rect x="1122" y="726" width="3" height="1" fill="#000"/>
<rect x="1128" y="726" width="3" height="1" fill="#000"/>
<rect x="1134" y="726" width="3" height="1" fill="#000"/>
<rect x="1140" y="726" width="3" height="1" fill="#000"/>
<rect x="1146" y="726" width="3" height="1" fill="#000"/>
<rect x="1152" y="726" width="3" height="1" fill="#000"/>
<rect x="1158" y="726" width="3" height="1" fill="#000"/>
<rect x="1164" y="726" width="3" height="1" fill="#000"/>
<rect x="1170" y="726" width="3" height="1" fill="#000"/>
<rect x="1176" y="726" width="3" height="1" fill="#000"/>
<rect x="1182" y="726" width="3" height="1" fill="#000"/>
<rect x="1188" y="726" width="3" height="1" fill="#000"/>
<rect x="1194" y="726" width="3" height="1" fill="#000"/>
<rect x="1200" y="726" width="3" height="1" fill="#000"/>
<rect x="1206" y="726" width="3" height="1" fill="#000"/>
<rect x="1212" y="726" width="3" height="1" fill="#000"/>
<rect x="1218" y="726" width="3" height="1" fill="#000"/>
<rect x="1224" y="726" width="3" height="1" fill="#000"/>
<rect x="1230" y="726" width="3" height="1" fill="#000"/>
<rect x="1236" y="726" width="3" height="1" fill="#000"/>
<rect x="1242" y="726" width="3" height="1" fill="#000"/>
<rect x="1248" y="726" width="3" height="1" fill="#000"/>
<rect x="1254" y="726" width="3" height="1" fill="#000"/>
<rect x="1260" y="726" width="3" height="1" fill="#000"/>
<rect x="1266" y="726" width="3" height="1" fill="#000"/>
<rect x="1272" y="726" width="3" height="1" fill="#000"/>
<rect x="1278" y="726" width="3" height="1" fill="#000"/>
<rect x="1284" y="726" width="3" height="1" fill="#000"/>
<rect x="1290" y="726" width="3" height="1" fill="#000"/>
<rect x="1296" y="726" width="3" height="1" fill="#000"/>
<rect x="1302" y="726" width="3" height="1" fill="#000"/>
<rect x="1308" y="726" width="3" height="1" fill="#000"/>
<rect x="1314" y="726" width="3" height="1" fill="#000"/>
<rect x="1320" y="726" width="3" height="1" fill="#000"/>
<rect x="1326" y="726" width="3" height="1" fill="#000"/>
<rect x="1332" y="726" width="3" height="1" fill="#000"/>
<rect x="1338" y="726" width="3" height="1" fill="#000"/>
<rect x="1344" y="726" width="3" height="1" fill="#000"/>
<rect x="1350" y="726" width="3" height="1" fill="#000"/>
<rect x="1356" y="726" width="3" height="1" fill="#000"/>
<rect x="1362" y="726" width="3" height="1" fill="#000"/>
<rect x="1368" y="726" width="3" height="1" fill="#000"/>
<rect x="1374" y="726" width="3" height="1" fill="#000"/>
<rect x="1380" y="726" width="3" height="1" fill="#000"/>
<rect x="1386" y="726" width="3" height="1" fill="#000"/>
<rect x="1392" y="726" width="3" height="1" fill="#000"/>
<rect x="1398" y="726" width="3" height="1" fill="#000"/>
<rect x="1404" y="726" width="3" height="1" fill="#000"/>
<rect x="1410" y="726" width="3" height="1" fill="#000"/>
<rect x="1416" y="726" width="3" height="1" fill="#000"/>
<rect x="1422" y="726" width="3" height="1" fill="#000"/>
<rect x="1428" y="726" width="3" height="1" fill="#000"/>
<rect x="1434" y="726" width="3" height="1" fill="#000"/>
<rect x="1440" y="726" width="3" height="1" fill="#000"/>
<rect x="1446" y="726" width="3" height="1" fill="#000"/>
<rect x="1452" y="726" width="3" height="1" fill="#000"/>
<rect x="1458" y="726" width="3" height="1" fill="#000"/>
<rect x="1464" y="726" width="3" height="1" fill="#000"/>
<rect x="1470" y="726" width="3" height="1" fill="#000"/>
<rect x="1476" y="726" width="3" height="1" fill="#000"/>
<rect x="1482" y="726" width="3" height="1" fill="#000"/>
<rect x="1488" y="726" width="3" height="1" fill="#000"/>
<rect x="1494" y="726" width="3" height="1" fill="#000"/>
<rect x="1500" y="726" width="3" height="1" fill="#000"/>
<rect x="1506" y="726" width="3" height="1" fill="#000"/>
<rect x="1512" y="726" width="3" height="1" fill="#000"/>
<rect x="1518" y="726" width="3" height="1" fill="#000"/>
<rect x="1524" y="726" width="3" height="1" fill="#000"/>
<rect x="1530" y="726" width="3" height="1" fill="#000"/>
<rect x="1536" y="726" width="3" height="1" fill="#000"/>
<rect x="1542" y="726" width="3" height="1" fill="#000"/>
<rect x="1548" y="726" width="3" height="1" fill="#000"/>
<rect x="1554" y="726" width="3" height="1" fill="#000"/>
<rect x="1560" y="726" width="3" height="1" fill="#000"/>
<rect x="1566" y="726" width="3" height="1" fill="#000"/>
<rect x="1572" y="726" width="3" height="1" fill="#000"/>
<rect x="1578" y="726" width="3" height="1" fill="#000"/>
<rect x="1584" y="726" width="3" height="1" fill="#000"/>
<rect x="1590" y="726" width="3" height="1" fill="#000"/>
<rect x="1596" y="726" width="3" height="1" fill="#000"/>
<rect x="1602" y="726" width="3" height="1" fill="#000"/>
<rect x="1608" y="726" width="3" height="1" fill="#000"/>
<rect x="6" y="753" width="3" height="1" fill="#000"/>
<rect x="12" y="753" width="3" height="1" fill="#000"/>
<rect x="18" y="753" width="3" height="1" fill="#000"/>
<rect x="24" y="753" width="3" height="1" fill="#000"/>
<rect x="30" y="753" width="3" height="1" fill="#000"/>
<rect x="36" y="753" width="3" height="1" fill="#000"/>
<rect x="42" y="753" width="3" height="1" fill="#000"/>
<rect x="48" y="753" width="3" height="1" fill="#000"/>
<rect x="54" y="753" width="3" height="1" fill="#000"/>
<rect x="60" y="753" width="3" height="1" fill="#000"/>
<rect x="66" y="753" width="3" height="1" fill="#000"/>
<rect x="72" y="753" width="3" height="1" fill="#000"/>
<rect x="78" y="753" width="3" height="1" fill="#000"/>
<rect x="84" y="753" width="3" height="1" fill="#000"/>
<rect x="90" y="753" width="3" height="1" fill="#000"/>
<rect x="96" y="753" width="3" height="1" fill="#000"/>
<rect x="102" y="753" width="3" height="1" fill="#000"/>
<rect x="108" y="753" width="3" height="1" fill="#000"/>
<rect x="114" y="753" width="3" height="1" fill="#000"/>
<rect x="120" y="753" width="3" height="1" fill="#000"/>
<rect x="126" y="753" width="3" height="1" fill="#000"/>
<rect x="132" y="753" width="3" height="1" fill="#000"/>
<rect x="138" y="753" width="3" height="1" fill="#000"/>
<rect x="144" y="753" width="3" height="1" fill="#000"/>
<rect x="150" y="753" width="3" height="1" fill="#000"/>
<rect x="156" y="753" width="3" height="1" fill="#000"/>
<rect x="162" y="753" width="3" height="1" fill="#000"/>
<rect x="168" y="753" width="3" height="1" fill="#000"/>
<rect x="174" y="753" width="3" height="1" fill="#000"/>
<rect x="180" y="753" width="3" height="1" fill="#000"/>
<rect x="186" y="753" width="3" height="1" fill="#000"/>
<rect x="192" y="753" width="3" height="1" fill="#000"/>
<rect x="198" y="753" width="3" height="1" fill="#000"/>
<rect x="204" y="753" width="3" height="1" fill="#000"/>
<rect x="210" y="753" width="3" height="1" fill="#000"/>
<rect x="216" y="753" width="3" height="1" fill="#000"/>
<rect x="222" y="753" width="3" height="1" fill="#000"/>
<rect x="228" y="753" width="3" height="1" fill="#000"/>
<rect x="234" y="753" width="3" height="1" fill="#000"/>
<rect x="240" y="753" width="3" height="1" fill="#000"/>
<rect x="246" y="753" width="3" height="1" fill="#000"/>
<rect x="252" y="753" width="3" height="1" fill="#000"/>
<rect x="258" y="753" width="3" height="1" fill="#000"/>
<rect x="264" y="753" width="3" height="1" fill="#000"/>
<rect x="270" y="753" width="3" height="1" fill="#000"/>
<rect x="276" y="753" width="3" height="1" fill="#000"/>
<rect x="282" y="753" width="3" height="1" fill="#000"/>
<rect x="288" y="753" width="3" height="1" fill="#000"/>
<rect x="294" y="753" width="3" height="1" fill="#000"/>
<rect x="300" y="753" width="3" height="1" fill="#000"/>
<rect x="306" y="753" width="3" height="1" fill="#000"/>
<rect x="312" y="753" width="3" height="1" fill="#000"/>
<rect x="318" y="753" width="3" height="1" fill="#000"/>
<rect x="324" y="753" width="3" height="1" fill="#000"/>
<rect x="330" y="753" width="3" height="1" fill="#000"/>
<rect x="336" y="753" width="3" height="1" fill="#000"/>
<rect x="342" y="753" width="3" height="1" fill="#000"/>
<rect x="348" y="753" width="3" height="1" fill="#000"/>
<rect x="354" y="753" width="3" height="1" fill="#000"/>
<rect x="360" y="753" width="3" height="1" fill="#000"/>
<rect x="366" y="753" width="3" height="1" fill="#000"/>
<rect x="372" y="753" width="3" height="1" fill="#000"/>
<rect x="378" y="753" width="3" height="1" fill="#000"/>
<rect x="384" y="753" width="3" height="1" fill="#000"/>
<rect x="390" y="753" width="3" height="1" fill="#000"/>
<rect x="396" y="753" width="3" height="1" fill="#000"/>
<rect x="402" y="753" width="3" height="1" fill="#000"/>
<rect x="408" y="753" width="3" height="1" fill="#000"/>
<rect x="414" y="753" width="3" height="1" fill="#000"/>
<rect x="420" y="753" width="3" height="1" fill="#000"/>
<rect x="426" y="753" width="3" height="1" fill="#000"/>
<rect x="432" y="753" width="3" height="1" fill="#000"/>
<rect x="438" y="753" width="3" height="1" fill="#000"/>
<rect x="444" y="753" width="3" height="1" fill="#000"/>
<rect x="450" y="753" width="3" height="1" fill="#000"/>
<rect x="456" y="753" width="3" height="1" fill="#000"/>
<rect x="462" y="753" width="3" height="1" fill="#000"/>
<rect x="468" y="753" width="3" height="1" fill="#000"/>
<rect x="474" y="753" width="3" height="1" fill="#000"/>
<rect x="480" y="753" width="3" height="1" fill="#000"/>
<rect x="486" y="753" width="3" height="1" fill="#000"/>
<rect x="492" y="753" width="3" height="1" fill="#000"/>
<rect x="498" y="753" width="3" height="1" fill="#000"/>
<rect x="504" y="753" width="3" height="1" fill="#000"/>
<rect x="510" y="753" width="3" height="1" fill="#000"/>
<rect x="516" y="753" width="3" height="1" fill="#000"/>
<rect x="522" y="753" width="3" height="1" fill="#000"/>
<rect x="528" y="753" width="3" height="1" fill="#000"/>
<rect x="534" y="753" width="3" height="1" fill="#000"/>
<rect x="540" y="753" width="3" height="1" fill="#000"/>
<rect x="546" y="753" width="3" height="1" fill="#000"/>
<rect x="552" y="753" width="3" height="1" fill="#000"/>
<rect x="558" y="753" width="3" height="1" fill="#000"/>
<rect x="564" y="753" width="3" height="1" fill="#000"/>
<rect x="570" y="753" width="3" height="1" fill="#000"/>
<rect x="576" y="753" width="3" height="1" fill="#000"/>
<rect x="582" y="753" width="3" height="1" fill="#000"/>
<rect x="588" y="753" width="3" height="1" fill="#000"/>
<rect x="594" y="753" width="3" height="1" fill="#000"/>
<rect x="600" y="753" width="3" height="1" fill="#000"/>
<rect x="606" y="753" width="3" height="1" fill="#000"/>
<rect x="612" y="753" width="3" height="1" fill="#000"/>
<rect x="618" y="753" width="3" height="1" fill="#000"/>
<rect x="624" y="753" width="3" height="1" fill="#000"/>
<rect x="630" y="753" width="3" height="1" fill="#000"/>
<rect x="636" y="753" width="3" height="1" fill="#000"/>
<rect x="642" y="753" width="3" height="1" fill="#000"/>
<rect x="648" y="753" width="3" height="1" fill="#000"/>
<rect x="654" y="753" width="3" height="1" fill="#000"/>
<rect x="660" y="753" width="3" height="1" fill="#000"/>
<rect x="666" y="753" width="3" height="1" fill="#000"/>
<rect x="672" y="753" width="3" height="1" fill="#000"/>
<rect x="678" y="753" width="3" height="1" fill="#000"/>
<rect x="684" y="753" width="3" height="1" fill="#000"/>
<rect x="690" y="753" width="3" height="1" fill="#000"/>
<rect x="696" y="753" width="3" height="1" fill="#000"/>
<rect x="702" y="753" width="3" height="1" fill="#000"/>
<rect x="708" y="753" width="3" height="1" fill="#000"/>
<rect x="714" y="753" width="3" height="1" fill="#000"/>
<rect x="720" y="753" width="3" height="1" fill="#000"/>
<rect x="726" y="753" width="3" height="1" fill="#000"/>
<rect x="732" y="753" width="3" height="1" fill="#000"/>
<rect x="738" y="753" width="3" height="1" fill="#000"/>
<rect x="744" y="753" width="3" height="1" fill="#000"/>
<rect x="750" y="753" width="3" height="1" fill="#000"/>
<rect x="756" y="753" width="3" height="1" fill="#000"/>
<rect x="762" y="753" width="3" height="1" fill="#000"/>
<rect x="768" y="753" width="3" height="1" fill="#000"/>
<rect x="774" y="753" width="3" height="1" fill="#000"/>
<rect x="780" y="753" width="3" height="1" fill="#000"/>
<rect x="786" y="753" width="3" height="1" fill="#000"/>
<rect x="792" y="753" width="3" height="1" fill="#000"/>
<rect x="798" y="753" width="3" height="1" fill="#000"/>
<rect x="804" y="753" width="3" height="1" fill="#000"/>
<rect x="810" y="753" width="3" height="1" fill="#000"/>
<rect x="816" y="753" width="3" height="1" fill="#000"/>
<rect x="822" y="753" width="3" height="1" fill="#000"/>
<rect x="828" y="753" width="3" height="1" fill="#000"/>
<rect x="834" y="753" width="3" height="1" fill="#000"/>
<rect x="840" y="753" width="3" height="1" fill="#000"/>
<rect x="846" y="753" width="3" height="1" fill="#000"/>
<rect x="852" y="753" width="3" height="1" fill="#000"/>
<rect x="858" y="753" width="3" height="1" fill="#000"/>
<rect x="864" y="753" width="3" height="1" fill="#000"/>
<rect x="870" y="753" width="3" height="1" fill="#000"/>
<rect x="876" y="753" width="3" height="1" fill="#000"/>
<rect x="882" y="753" width="3" height="1" fill="#000"/>
<rect x="888" y="753" width="3" height="1" fill="#000"/>
<rect x="894" y="753" width="3" height="1" fill="#000"/>
<rect x="900" y="753" width="3" height="1" fill="#000"/>
<rect x="906" y="753" width="3" height="1" fill="#000"/>
<rect x="912" y="753" width="3" height="1" fill="#000"/>
<rect x="918" y="753" width="3" height="1" fill="#000"/>
<rect x="924" y="753" width="3" height="1" fill="#000"/>
<rect x="930" y="753" width="3" height="1" fill="#000"/>
<rect x="936" y="753" width="3" height="1" fill="#000"/>
<rect x="942" y="753" width="3" height="1" fill="#000"/>
<rect x="948" y="753" width="3" height="1" fill="#000"/>
<rect x="954" y="753" width="3" height="1" fill="#000"/>
<rect x="960" y="753" width="3" height="1" fill="#000"/>
<rect x="966" y="753" width="3" height="1" fill="#000"/>
<rect x="972" y="753" width="3" height="1" fill="#000"/>
<rect x="978" y="753" width="3" height="1" fill="#000"/>
<rect x="984" y="753" width="3" height="1" fill="#000"/>
<rect x="990" y="753" width="3" height="1" fill="#000"/>
<rect x="996" y="753" width="3" height="1" fill="#000"/>
<rect x="1002" y="753" width="3" height="1" fill="#000"/>
<rect x="1008" y="753" width="3" height="1" fill="#000"/>
<rect x="1014" y="753" width="3" height="1" fill="#000"/>
<rect x="1020" y="753" width="3" height="1" fill="#000"/>
<rect x="1026" y="753" width="3" height="1" fill="#000"/>
<rect x="1032" y="753" width="3" height="1" fill="#000"/>
<rect x="1038" y="753" width="3" height="1" fill="#000"/>
<rect x="1044" y="753" width="3" height="1" fill="#000"/>
<rect x="1050" y="753" width="3" height="1" fill="#000"/>
<rect x="1056" y="753" width="3" height="1" fill="#000"/>
<rect x="1062" y="753" width="3" height="1" fill="#000"/>
<rect x="1068" y="753" width="3" height="1" fill="#000"/>
<rect x="1074" y="753" width="3" height="1" fill="#000"/>
<rect x="1080" y="753" width="3" height="1" fill="#000"/>
<rect x="1086" y="753" width="3" height="1" fill="#000"/>
<rect x="1092" y="753" width="3" height="1" fill="#000"/>
<rect x="1098" y="753" width="3" height="1" fill="#000"/>
<rect x="1104" y="753" width="3" height="1" fill="#000"/>
<rect x="1110" y="753" width="3" height="1" fill="#000"/>
<rect x="1116" y="753" width="3" height="1" fill="#000"/>
<rect x="1122" y="753" width="3" height="1" fill="#000"/>
<rect x="1128" y="753" width="3" height="1" fill="#000"/>
<rect x="1134" y="753" width="3" height="1" fill="#000"/>
<rect x="1140" y="753" width="3" height="1" fill="#000"/>
<rect x="1146" y="753" width="3" height="1" fill="#000"/>
<rect x="1152" y="753" width="3" height="1" fill="#000"/>
<rect x="1158" y="753" width="3" height="1" fill="#000"/>
<rect x="1164" y="753" width="3" height="1" fill="#000"/>
<rect x="1170" y="753" width="3" height="1" fill="#000"/>
<rect x="1176" y="753" width="3" height="1" fill="#000"/>
<rect x="1182" y="753" width="3" height="1" fill="#000"/>
<rect x="1188" y="753" width="3" height="1" fill="#000"/>
<rect x="1194" y="753" width="3" height="1" fill="#000"/>
<rect x="1200" y="753" width="3" height="1" fill="#000"/>
<rect x="1206" y="753" width="3" height="1" fill="#000"/>
<rect x="1212" y="753" width="3" height="1" fill="#000"/>
<rect x="1218" y="753" width="3" height="1" fill="#000"/>
<rect x="1224" y="753" width="3" height="1" fill="#000"/>
<rect x="1230" y="753" width="3" height="1" fill="#000"/>
<rect x="1236" y="753" width="3" height="1" fill="#000"/>
<rect x="1242" y="753" width="3" height="1" fill="#000"/>
<rect x="1248" y="753" width="3" height="1" fill="#000"/>
<rect x="1254" y="753" width="3" height="1" fill="#000"/>
<rect x="1260" y="753" width="3" height="1" fill="#000"/>
<rect x="1266" y="753" width="3" height="1" fill="#000"/>
<rect x="1272" y="753" width="3" height="1" fill="#000"/>
<rect x="1278" y="753" width="3" height="1" fill="#000"/>
<rect x="1284" y="753" width="3" height="1" fill="#000"/>
<rect x="1290" y="753" width="3" height="1" fill="#000"/>
<rect x="1296" y="753" width="3" height="1" fill="#000"/>
<rect x="1302" y="753" width="3" height="1" fill="#000"/>
<rect x="1308" y="753" width="3" height="1" fill="#000"/>
<rect x="1314" y="753" width="3" height="1" fill="#000"/>
<rect x="1320" y="753" width="3" height="1" fill="#000"/>
<rect x="1326" y="753" width="3" height="1" fill="#000"/>
<rect x="1332" y="753" width="3" height="1" fill="#000"/>
<rect x="1338" y="753" width="3" height="1" fill="#000"/>
<rect x="1344" y="753" width="3" height="1" fill="#000"/>
<rect x="1350" y="753" width="3" height="1" fill="#000"/>
<rect x="1356" y="753" width="3" height="1" fill="#000"/>
<rect x="1362" y="753" width="3" height="1" fill="#000"/>
<rect x="1368" y="753" width="3" height="1" fill="#000"/>
<rect x="1374" y="753" width="3" height="1" fill="#000"/>
<rect x="1380" y="753" width="3" height="1" fill="#000"/>
<rect x="1386" y="753" width="3" height="1" fill="#000"/>
<rect x="1392" y="753" width="3" height="1" fill="#000"/>
<rect x="1398" y="753" width="3" height="1" fill="#000"/>
<rect x="1404" y="753" width="3" height="1" fill="#000"/>
<rect x="1410" y="753" width="3" height="1" fill="#000"/>
<rect x="1416" y="753" width="3" height="1" fill="#000"/>
<rect x="1422" y="753" width="3" height="1" fill="#000"/>
<rect x="1428" y="753" width="3" height="1" fill="#000"/>
<rect x="1434" y="753" width="3" height="1" fill="#000"/>
<rect x="1440" y="753" width="3" height="1" fill="#000"/>
<rect x="1446" y="753" width="3" height="1" fill="#000"/>
<rect x="1452" y="753" width="3" height="1" fill="#000"/>
<rect x="1458" y="753" width="3" height="1" fill="#000"/>
<rect x="1464" y="753" width="3" height="1" fill="#000"/>
<rect x="1470" y="753" width="3" height="1" fill="#000"/>
<rect x="1476" y="753" width="3" height="1" fill="#000"/>
<rect x="1482" y="753" width="3" height="1" fill="#000"/>
<rect x="1488" y="753" width="3" height="1" fill="#000"/>
<rect x="1494" y="753" width="3" height="1" fill="#000"/>
<rect x="1500" y="753" width="3" height="1" fill="#000"/>
<rect x="1506" y="753" width="3" height="1" fill="#000"/>
<rect x="1512" y="753" width="3" height="1" fill="#000"/>
<rect x="1518" y="753" width="3" height="1" fill="#000"/>
<rect x="1524" y="753" width="3" height="1" fill="#000"/>
<rect x="1530" y="753" width="3" height="1" fill="#000"/>
<rect x="1536" y="753" width="3" height="1" fill="#000"/>
<rect x="1542" y="753" width="3" height="1" fill="#000"/>
<rect x="1548" y="753" width="3" height="1" fill="#000"/>
<rect x="1554" y="753" width="3" height="1" fill="#000"/>
<rect x="1560" y="753" width="3" height="1" fill="#000"/>
<rect x="1566" y="753" width="3" height="1" fill="#000"/>
<rect x="1572" y="753" width="3" height="1" fill="#000"/>
<rect x="1578" y="753" width="3" height="1" fill="#000"/>
<rect x="1584" y="753" width="3" height="1" fill="#000"/>
<rect x="1590" y="753" width="3" height="1" fill="#000"/>
<rect x="1596" y="753" width="3" height="1" fill="#000"/>
<rect x="1602" y="753" width="3" height="1" fill="#000"/>
<rect x="1608" y="753" width="3" height="1" fill="#000"/>
<rect x="6" y="786" width="3" height="1" fill="#000"/>
<rect x="12" y="786" width="3" height="1" fill="#000"/>
<rect x="18" y="786" width="3" height="1" fill="#000"/>
<rect x="24" y="786" width="3" height="1" fill="#000"/>
<rect x="30" y="786" width="3" height="1" fill="#000"/>
<rect x="36" y="786" width="3" height="1" fill="#000"/>
<rect x="42" y="786" width="3" height="1" fill="#000"/>
<rect x="48" y="786" width="3" height="1" fill="#000"/>
<rect x="54" y="786" width="3" height="1" fill="#000"/>
<rect x="60" y="786" width="3" height="1" fill="#000"/>
<rect x="66" y="786" width="3" height="1" fill="#000"/>
<rect x="72" y="786" width="3" height="1" fill="#000"/>
<rect x="78" y="786" width="3" height="1" fill="#000"/>
<rect x="84" y="786" width="3" height="1" fill="#000"/>
<rect x="90" y="786" width="3" height="1" fill="#000"/>
<rect x="96" y="786" width="3" height="1" fill="#000"/>
<rect x="102" y="786" width="3" height="1" fill="#000"/>
<rect x="108" y="786" width="3" height="1" fill="#000"/>
<rect x="114" y="786" width="3" height="1" fill="#000"/>
<rect x="120" y="786" width="3" height="1" fill="#000"/>
<rect x="126" y="786" width="3" height="1" fill="#000"/>
<rect x="132" y="786" width="3" height="1" fill="#000"/>
<rect x="138" y="786" width="3" height="1" fill="#000"/>
<rect x="144" y="786" width="3" height="1" fill="#000"/>
<rect x="150" y="786" width="3" height="1" fill="#000"/>
<rect x="156" y="786" width="3" height="1" fill="#000"/>
<rect x="162" y="786" width="3" height="1" fill="#000"/>
<rect x="168" y="786" width="3" height="1" fill="#000"/>
<rect x="174" y="786" width="3" height="1" fill="#000"/>
<rect x="180" y="786" width="3" height="1" fill="#000"/>
<rect x="186" y="786" width="3" height="1" fill="#000"/>
<rect x="192" y="786" width="3" height="1" fill="#000"/>
<rect x="198" y="786" width="3" height="1" fill="#000"/>
<rect x="204" y="786" width="3" height="1" fill="#000"/>
<rect x="210" y="786" width="3" height="1" fill="#000"/>
<rect x="216" y="786" width="3" height="1" fill="#000"/>
<rect x="222" y="786" width="3" height="1" fill="#000"/>
<rect x="228" y="786" width="3" height="1" fill="#000"/>
<rect x="234" y="786" width="3" height="1" fill="#000"/>
<rect x="240" y="786" width="3" height="1" fill="#000"/>
<rect x="246" y="786" width="3" height="1" fill="#000"/>
<rect x="252" y="786" width="3" height="1" fill="#000"/>
<rect x="258" y="786" width="3" height="1" fill="#000"/>
<rect x="264" y="786" width="3" height="1" fill="#000"/>
<rect x="270" y="786" width="3" height="1" fill="#000"/>
<rect x="276" y="786" width="3" height="1" fill="#000"/>
<rect x="282" y="786" width="3" height="1" fill="#000"/>
<rect x="288" y="786" width="3" height="1" fill="#000"/>
<rect x="294" y="786" width="3" height="1" fill="#000"/>
<rect x="300" y="786" width="3" height="1" fill="#000"/>
<rect x="306" y="786" width="3" height="1" fill="#000"/>
<rect x="312" y="786" width="3" height="1" fill="#000"/>
<rect x="318" y="786" width="3" height="1" fill="#000"/>
<rect x="324" y="786" width="3" height="1" fill="#000"/>
<rect x="330" y="786" width="3" height="1" fill="#000"/>
<rect x="336" y="786" width="3" height="1" fill="#000"/>
<rect x="342" y="786" width="3" height="1" fill="#000"/>
<rect x="348" y="786" width="3" height="1" fill="#000"/>
<rect x="354" y="786" width="3" height="1" fill="#000"/>
<rect x="360" y="786" width="3" height="1" fill="#000"/>
<rect x="366" y="786" width="3" height="1" fill="#000"/>
<rect x="372" y="786" width="3" height="1" fill="#000"/>
<rect x="378" y="786" width="3" height="1" fill="#000"/>
<rect x="384" y="786" width="3" height="1" fill="#000"/>
<rect x="390" y="786" width="3" height="1" fill="#000"/>
<rect x="396" y="786" width="3" height="1" fill="#000"/>
<rect x="402" y="786" width="3" height="1" fill="#000"/>
<rect x="408" y="786" width="3" height="1" fill="#000"/>
<rect x="414" y="786" width="3" height="1" fill="#000"/>
<rect x="420" y="786" width="3" height="1" fill="#000"/>
<rect x="426" y="786" width="3" height="1" fill="#000"/>
<rect x="432" y="786" width="3" height="1" fill="#000"/>
<rect x="438" y="786" width="3" height="1" fill="#000"/>
<rect x="444" y="786" width="3" height="1" fill="#000"/>
<rect x="450" y="786" width="3" height="1" fill="#000"/>
<rect x="456" y="786" width="3" height="1" fill="#000"/>
<rect x="462" y="786" width="3" height="1" fill="#000"/>
<rect x="468" y="786" width="3" height="1" fill="#000"/>
<rect x="474" y="786" width="3" height="1" fill="#000"/>
<rect x="480" y="786" width="3" height="1" fill="#000"/>
<rect x="486" y="786" width="3" height="1" fill="#000"/>
<rect x="492" y="786" width="3" height="1" fill="#000"/>
<rect x="498" y="786" width="3" height="1" fill="#000"/>
<rect x="504" y="786" width="3" height="1" fill="#000"/>
<rect x="510" y="786" width="3" height="1" fill="#000"/>
<rect x="516" y="786" width="3" height="1" fill="#000"/>
<rect x="522" y="786" width="3" height="1" fill="#000"/>
<rect x="528" y="786" width="3" height="1" fill="#000"/>
<rect x="534" y="786" width="3" height="1" fill="#000"/>
<rect x="540" y="786" width="3" height="1" fill="#000"/>
<rect x="546" y="786" width="3" height="1" fill="#000"/>
<rect x="552" y="786" width="3" height="1" fill="#000"/>
<rect x="558" y="786" width="3" height="1" fill="#000"/>
<rect x="564" y="786" width="3" height="1" fill="#000"/>
<rect x="570" y="786" width="3" height="1" fill="#000"/>
<rect x="576" y="786" width="3" height="1" fill="#000"/>
<rect x="582" y="786" width="3" height="1" fill="#000"/>
<rect x="588" y="786" width="3" height="1" fill="#000"/>
<rect x="594" y="786" width="3" height="1" fill="#000"/>
<rect x="600" y="786" width="3" height="1" fill="#000"/>
<rect x="606" y="786" width="3" height="1" fill="#000"/>
<rect x="612" y="786" width="3" height="1" fill="#000"/>
<rect x="618" y="786" width="3" height="1" fill="#000"/>
<rect x="624" y="786" width="3" height="1" fill="#000"/>
<rect x="630" y="786" width="3" height="1" fill="#000"/>
<rect x="636" y="786" width="3" height="1" fill="#000"/>
<rect x="642" y="786" width="3" height="1" fill="#000"/>
<rect x="648" y="786" width="3" height="1" fill="#000"/>
<rect x="654" y="786" width="3" height="1" fill="#000"/>
<rect x="660" y="786" width="3" height="1" fill="#000"/>
<rect x="666" y="786" width="3" height="1" fill="#000"/>
<rect x="672" y="786" width="3" height="1" fill="#000"/>
<rect x="678" y="786" width="3" height="1" fill="#000"/>
<rect x="684" y="786" width="3" height="1" fill="#000"/>
<rect x="690" y="786" width="3" height="1" fill="#000"/>
<rect x="696" y="786" width="3" height="1" fill="#000"/>
<rect x="702" y="786" width="3" height="1" fill="#000"/>
<rect x="708" y="786" width="3" height="1" fill="#000"/>
<rect x="714" y="786" width="3" height="1" fill="#000"/>
<rect x="720" y="786" width="3" height="1" fill="#000"/>
<rect x="726" y="786" width="3" height="1" fill="#000"/>
<rect x="732" y="786" width="3" height="1" fill="#000"/>
<rect x="738" y="786" width="3" height="1" fill="#000"/>
<rect x="744" y="786" width="3" height="1" fill="#000"/>
<rect x="750" y="786" width="3" height="1" fill="#000"/>
<rect x="756" y="786" width="3" height="1" fill="#000"/>
<rect x="762" y="786" width="3" height="1" fill="#000"/>
<rect x="768" y="786" width="3" height="1" fill="#000"/>
<rect x="774" y="786" width="3" height="1" fill="#000"/>
<rect x="780" y="786" width="3" height="1" fill="#000"/>
<rect x="786" y="786" width="3" height="1" fill="#000"/>
<rect x="792" y="786" width="3" height="1" fill="#000"/>
<rect x="798" y="786" width="3" height="1" fill="#000"/>
<rect x="804" y="786" width="3" height="1" fill="#000"/>
<rect x="810" y="786" width="3" height="1" fill="#000"/>
<rect x="816" y="786" width="3" height="1" fill="#000"/>
<rect x="822" y="786" width="3" height="1" fill="#000"/>
<rect x="828" y="786" width="3" height="1" fill="#000"/>
<rect x="834" y="786" width="3" height="1" fill="#000"/>
<rect x="840" y="786" width="3" height="1" fill="#000"/>
<rect x="846" y="786" width="3" height="1" fill="#000"/>
<rect x="852" y="786" width="3" height="1" fill="#000"/>
<rect x="858" y="786" width="3" height="1" fill="#000"/>
<rect x="864" y="786" width="3" height="1" fill="#000"/>
<rect x="870" y="786" width="3" height="1" fill="#000"/>
<rect x="876" y="786" width="3" height="1" fill="#000"/>
<rect x="882" y="786" width="3" height="1" fill="#000"/>
<rect x="888" y="786" width="3" height="1" fill="#000"/>
<rect x="894" y="786" width="3" height="1" fill="#000"/>
<rect x="900" y="786" width="3" height="1" fill="#000"/>
<rect x="906" y="786" width="3" height="1" fill="#000"/>
<rect x="912" y="786" width="3" height="1" fill="#000"/>
<rect x="918" y="786" width="3" height="1" fill="#000"/>
<rect x="924" y="786" width="3" height="1" fill="#000"/>
<rect x="930" y="786" width="3" height="1" fill="#000"/>
<rect x="936" y="786" width="3" height="1" fill="#000"/>
<rect x="942" y="786" width="3" height="1" fill="#000"/>
<rect x="948" y="786" width="3" height="1" fill="#000"/>
<rect x="954" y="786" width="3" height="1" fill="#000"/>
<rect x="960" y="786" width="3" height="1" fill="#000"/>
<rect x="966" y="786" width="3" height="1" fill="#000"/>
<rect x="972" y="786" width="3" height="1" fill="#000"/>
<rect x="978" y="786" width="3" height="1" fill="#000"/>
<rect x="984" y="786" width="3" height="1" fill="#000"/>
<rect x="990" y="786" width="3" height="1" fill="#000"/>
<rect x="996" y="786" width="3" height="1" fill="#000"/>
<rect x="1002" y="786" width="3" height="1" fill="#000"/>
<rect x="1008" y="786" width="3" height="1" fill="#000"/>
<rect x="1014" y="786" width="3" height="1" fill="#000"/>
<rect x="1020" y="786" width="3" height="1" fill="#000"/>
<rect x="1026" y="786" width="3" height="1" fill="#000"/>
<rect x="1032" y="786" width="3" height="1" fill="#000"/>
<rect x="1038" y="786" width="3" height="1" fill="#000"/>
<rect x="1044" y="786" width="3" height="1" fill="#000"/>
<rect x="1050" y="786" width="3" height="1" fill="#000"/>
<rect x="1056" y="786" width="3" height="1" fill="#000"/>
<rect x="1062" y="786" width="3" height="1" fill="#000"/>
<rect x="1068" y="786" width="3" height="1" fill="#000"/>
<rect x="1074" y="786" width="3" height="1" fill="#000"/>
<rect x="1080" y="786" width="3" height="1" fill="#000"/>
<rect x="1086" y="786" width="3" height="1" fill="#000"/>
<rect x="1092" y="786" width="3" height="1" fill="#000"/>
<rect x="1098" y="786" width="3" height="1" fill="#000"/>
<rect x="1104" y="786" width="3" height="1" fill="#000"/>
<rect x="1110" y="786" width="3" height="1" fill="#000"/>
<rect x="1116" y="786" width="3" height="1" fill="#000"/>
<rect x="1122" y="786" width="3" height="1" fill="#000"/>
<rect x="1128" y="786" width="3" height="1" fill="#000"/>
<rect x="1134" y="786" width="3" height="1" fill="#000"/>
<rect x="1140" y="786" width="3" height="1" fill="#000"/>
<rect x="1146" y="786" width="3" height="1" fill="#000"/>
<rect x="1152" y="786" width="3" height="1" fill="#000"/>
<rect x="1158" y="786" width="3" height="1" fill="#000"/>
<rect x="1164" y="786" width="3" height="1" fill="#000"/>
<rect x="1170" y="786" width="3" height="1" fill="#000"/>
<rect x="1176" y="786" width="3" height="1" fill="#000"/>
<rect x="1182" y="786" width="3" height="1" fill="#000"/>
<rect x="1188" y="786" width="3" height="1" fill="#000"/>
<rect x="1194" y="786" width="3" height="1" fill="#000"/>
<rect x="1200" y="786" width="3" height="1" fill="#000"/>
<rect x="1206" y="786" width="3" height="1" fill="#000"/>
<rect x="1212" y="786" width="3" height="1" fill="#000"/>
<rect x="1218" y="786" width="3" height="1" fill="#000"/>
<rect x="1224" y="786" width="3" height="1" fill="#000"/>
<rect x="1230" y="786" width="3" height="1" fill="#000"/>
<rect x="1236" y="786" width="3" height="1" fill="#000"/>
<rect x="1242" y="786" width="3" height="1" fill="#000"/>
<rect x="1248" y="786" width="3" height="1" fill="#000"/>
<rect x="1254" y="786" width="3" height="1" fill="#000"/>
<rect x="1260" y="786" width="3" height="1" fill="#000"/>
<rect x="1266" y="786" width="3" height="1" fill="#000"/>
<rect x="1272" y="786" width="3" height="1" fill="#000"/>
<rect x="1278" y="786" width="3" height="1" fill="#000"/>
<rect x="1284" y="786" width="3" height="1" fill="#000"/>
<rect x="1290" y="786" width="3" height="1" fill="#000"/>
<rect x="1296" y="786" width="3" height="1" fill="#000"/>
<rect x="1302" y="786" width="3" height="1" fill="#000"/>
<rect x="1308" y="786" width="3" height="1" fill="#000"/>
<rect x="1314" y="786" width="3" height="1" fill="#000"/>
<rect x="1320" y="786" width="3" height="1" fill="#000"/>
<rect x="1326" y="786" width="3" height="1" fill="#000"/>
<rect x="1332" y="786" width="3" height="1" fill="#000"/>
<rect x="1338" y="786" width="3" height="1" fill="#000"/>
<rect x="1344" y="786" width="3" height="1" fill="#000"/>
<rect x="1350" y="786" width="3" height="1" fill="#000"/>
<rect x="1356" y="786" width="3" height="1" fill="#000"/>
<rect x="1362" y="786" width="3" height="1" fill="#000"/>
<rect x="1368" y="786" width="3" height="1" fill="#000"/>
<rect x="1374" y="786" width="3" height="1" fill="#000"/>
<rect x="1380" y="786" width="3" height="1" fill="#000"/>
<rect x="1386" y="786" width="3" height="1" fill="#000"/>
<rect x="1392" y="786" width="3" height="1" fill="#000"/>
<rect x="1398" y="786" width="3" height="1" fill="#000"/>
<rect x="1404" y="786" width="3" height="1" fill="#000"/>
<rect x="1410" y="786" width="3" height="1" fill="#000"/>
<rect x="1416" y="786" width="3" height="1" fill="#000"/>
<rect x="1422" y="786" width="3" height="1" fill="#000"/>
<rect x="1428" y="786" width="3" height="1" fill="#000"/>
<rect x="1434" y="786" width="3" height="1" fill="#000"/>
<rect x="1440" y="786" width="3" height="1" fill="#000"/>
<rect x="1446" y="786" width="3" height="1" fill="#000"/>
<rect x="1452" y="786" width="3" height="1" fill="#000"/>
<rect x="1458" y="786" width="3" height="1" fill="#000"/>
<rect x="1464" y="786" width="3" height="1" fill="#000"/>
<rect x="1470" y="786" width="3" height="1" fill="#000"/>
<rect x="1476" y="786" width="3" height="1" fill="#000"/>
<rect x="1482" y="786" width="3" height="1" fill="#000"/>
<rect x="1488" y="786" width="3" height="1" fill="#000"/>
<rect x="1494" y="786" width="3" height="1" fill="#000"/>
<rect x="1500" y="786" width="3" height="1" fill="#000"/>
<rect x="1506" y="786" width="3" height="1" fill="#000"/>
<rect x="1512" y="786" width="3" height="1" fill="#000"/>
<rect x="1518" y="786" width="3" height="1" fill="#000"/>
<rect x="1524" y="786" width="3" height="1" fill="#000"/>
<rect x="1530" y="786" width="3" height="1" fill="#000"/>
<rect x="1536" y="786" width="3" height="1" fill="#000"/>
<rect x="1542" y="786" width="3" height="1" fill="#000"/>
<rect x="1548" y="786" width="3" height="1" fill="#000"/>
<rect x="1554" y="786" width="3" height="1" fill="#000"/>
<rect x="1560" y="786" width="3" height="1" fill="#000"/>
<rect x="1566" y="786" width="3" height="1" fill="#000"/>
<rect x="1572" y="786" width="3" height="1" fill="#000"/>
<rect x="1578" y="786" width="3" height="1" fill="#000"/>
<rect x="1584" y="786" width="3" height="1" fill="#000"/>
<rect x="1590" y="786" width="3" height="1" fill="#000"/>
<rect x="1596" y="786" width="3" height="1" fill="#000"/>
<rect x="1602" y="786" width="3" height="1" fill="#000"/>
<rect x="1608" y="786" width="3" height="1" fill="#000"/>
</svg>
<svg class="cv" width="1655" height="823" viewBox="0 0 1655 823">
<polyline points="5,641.5 21,641.5 37,641.0 53,640.0 69,638.3 85,637.5 101,636.4 117,635.0 133,635.0 149,636.0 165,637.3 181,640.0 197,643.5 213,648.0 229,653.0 245,657.0 261,660.5 277,663.0 293,665.5 309,667.0 325,667.0 341,666.3 357,665.8 373,665.3 389,664.9 405,665.3 421,666.3 437,667.3 453,668.9 469,672.2 485,675.4 501,677.4 517,679.4 533,680.8 549,682.4 565,684.8 581,687.8 597,689.8 613,690.8 629,692.8 645,692.8 661,693.3 677,693.7 693,693.1 709,691.1 725,687.7 741,684.4 757,679.8 773,674.2 789,668.2 805,662.8 821,656.8 837,651.9 853,645.3 869,639.9 885,634.3 901,629.9 917,627.3 933,623.9 949,622.3 965,621.3 981,620.4 997,619.6 1013,619.0 1029,618.4 1045,617.6 1061,617.0 1077,616.6 1093,616.0 1109,614.4 1125,612.4 1141,612.0 1157,612.4 1173,613.4 1189,614.4 1205,615.4 1221,616.4 1237,618.0 1253,620.0 1254.5,620.0" fill="none" stroke="#ff0000" stroke-width="2" stroke-linejoin="round" shape-rendering="crispEdges"/>
<polyline points="5,745.9 21,745.9 37,744.5 53,741.9 69,739.5 85,755.9 101,755.9 117,760.5 133,761.9 149,757.5 165,764.3 181,768.5 197,769.3 213,770.2 229,771.8 245,771.8 261,758.9 277,756.3 293,755.9 309,754.3 325,752.5 341,754.9 357,767.5 373,768.9 389,768.9 405,764.9 421,767.3 437,769.9 453,767.3 469,768.9 485,768.9 501,768.9 517,768.9 533,767.1 549,772.2 565,775.8 581,775.8 597,772.2 613,769.5 629,766.9 645,767.9 661,761.3 677,761.3 693,757.5 709,750.9 725,756.3 741,747.9 757,744.9 773,744.9 789,746.9 805,743.9 821,745.9 837,745.5 853,740.9 869,741.3 885,741.5 901,740.3 917,743.9 933,749.9 949,749.9 965,749.9 981,749.9 997,737.9 1013,739.5 1029,739.5 1045,738.5 1061,737.9 1077,747.9 1093,747.9 1109,743.3 1125,742.9 1141,746.5 1157,746.5 1173,745.9 1189,745.5 1205,749.3 1221,753.9 1237,750.9 1253,750.9 1254.5,750.9" fill="none" stroke="#1e90ff" stroke-width="2" stroke-linejoin="round" shape-rendering="crispEdges"/>
<line x1="1204.6" y1="142.8" x2="1282" y2="176.8" stroke="#4c9b2b" stroke-width="3"/>
<polygon points="1284.8,168.0 1297.2,183.8 1277.6,184.8" fill="#4c9b2b"/>
<g font-family="Liberation Sans, sans-serif" font-size="10" letter-spacing="-0.45" text-rendering="geometricPrecision">
<text x="1618" y="157" fill="#fff" stroke="#fff" stroke-width="0.25" text-anchor="start" >87.052</text>
<text x="1618" y="187" fill="#fff" stroke="#fff" stroke-width="0.25" text-anchor="start" >86.499</text>
<text x="1618" y="222" fill="#fff" stroke="#fff" stroke-width="0.25" text-anchor="start" >85.854</text>
<text x="1618" y="266" fill="#fff" stroke="#fff" stroke-width="0.25" text-anchor="start" >85.043</text>
<text x="1618" y="298" fill="#fff" stroke="#fff" stroke-width="0.25" text-anchor="start" >84.453</text>
<text x="1618" y="237" fill="#fff" stroke="#fff" stroke-width="0.25" text-anchor="start" >85.591</text>
<text x="1615.8" y="613" fill="#000" stroke="#000" stroke-width="0.25" text-anchor="start" >0.9642</text>
<text x="1615.8" y="647" fill="#000" stroke="#000" stroke-width="0.25" text-anchor="start" >0.00</text>
<text x="1615.8" y="701" fill="#000" stroke="#000" stroke-width="0.25" text-anchor="start" >-1.4583</text>
<text x="1615.8" y="718" fill="#000" stroke="#000" stroke-width="0.25" text-anchor="start" >100</text>
<text x="1615.3" y="730" fill="#000" stroke="#000" stroke-width="0.25" text-anchor="start" >80</text>
<text x="1615.3" y="757" fill="#000" stroke="#000" stroke-width="0.25" text-anchor="start" >50</text>
<text x="1615.3" y="790" fill="#000" stroke="#000" stroke-width="0.25" text-anchor="start" >15</text>
<text x="1615.6" y="797" fill="#000" stroke="#000" stroke-width="0.25" text-anchor="start" >0</text>
<text x="4" y="813" fill="#000" stroke="#000" stroke-width="0.25" text-anchor="start" letter-spacing="-0.4">26 Jan 2023</text>
<text x="68" y="813" fill="#000" stroke="#000" stroke-width="0.25" text-anchor="start" letter-spacing="-0.4">27 Jan 09:00</text>
<text x="132" y="813" fill="#000" stroke="#000" stroke-width="0.25" text-anchor="start" letter-spacing="-0.4">30 Jan 05:00</text>
<text x="196" y="813" fill="#000" stroke="#000" stroke-width="0.25" text-anchor="start" letter-spacing="-0.4">30 Jan 21:00</text>
<text x="260" y="813" fill="#000" stroke="#000" stroke-width="0.25" text-anchor="start" letter-spacing="-0.4">31 Jan 13:00</text>
<text x="324" y="813" fill="#000" stroke="#000" stroke-width="0.25" text-anchor="start" letter-spacing="-0.4">1 Feb 05:00</text>
<text x="388" y="813" fill="#000" stroke="#000" stroke-width="0.25" text-anchor="start" letter-spacing="-0.4">1 Feb 21:00</text>
<text x="452" y="813" fill="#000" stroke="#000" stroke-width="0.25" text-anchor="start" letter-spacing="-0.4">2 Feb 13:00</text>
<text x="516" y="813" fill="#000" stroke="#000" stroke-width="0.25" text-anchor="start" letter-spacing="-0.4">3 Feb 05:00</text>
<text x="580" y="813" fill="#000" stroke="#000" stroke-width="0.25" text-anchor="start" letter-spacing="-0.4">3 Feb 21:00</text>
<text x="644" y="813" fill="#000" stroke="#000" stroke-width="0.25" text-anchor="start" letter-spacing="-0.4">6 Feb 13:00</text>
<text x="708" y="813" fill="#000" stroke="#000" stroke-width="0.25" text-anchor="start" letter-spacing="-0.4">7 Feb 05:00</text>
<text x="772" y="813" fill="#000" stroke="#000" stroke-width="0.25" text-anchor="start" letter-spacing="-0.4">7 Feb 21:00</text>
<text x="836" y="813" fill="#000" stroke="#000" stroke-width="0.25" text-anchor="start" letter-spacing="-0.4">8 Feb 13:00</text>
<text x="900" y="813" fill="#000" stroke="#000" stroke-width="0.25" text-anchor="start" letter-spacing="-0.4">9 Feb 05:00</text>
<text x="964" y="813" fill="#000" stroke="#000" stroke-width="0.25" text-anchor="start" letter-spacing="-0.4">9 Feb 21:00</text>
<text x="1028" y="813" fill="#000" stroke="#000" stroke-width="0.25" text-anchor="start" letter-spacing="-0.4">10 Feb 13:00</text>
<text x="1092" y="813" fill="#000" stroke="#000" stroke-width="0.25" text-anchor="start" letter-spacing="-0.4">13 Feb 05:00</text>
<text x="1156" y="813" fill="#000" stroke="#000" stroke-width="0.25" text-anchor="start" letter-spacing="-0.4">13 Feb 21:00</text>
<text x="1220" y="813" fill="#000" stroke="#000" stroke-width="0.25" text-anchor="start" letter-spacing="-0.4">14 Feb 13:00</text>
<text x="20.5" y="36" fill="#000" stroke="#000" stroke-width="0.25" text-anchor="start" letter-spacing="-0.3">UKOil-,H4&#160;&#160;85.670 85.672 85.581 85.591</text>
<text x="9" y="615" fill="#000" stroke="#000" stroke-width="0.25" text-anchor="start" letter-spacing="-0.3">MACD(12,26,9) 0.3810 0.5741</text>
<text x="9" y="719" fill="#000" stroke="#000" stroke-width="0.25" text-anchor="start" letter-spacing="-0.3">RSI(14) 53.1629</text>
</g>
</svg>
<svg class="cv" width="1655" height="19" viewBox="0 0 1655 19">
<rect x="243" y="0" width="25" height="18" fill="#f8f8f8"/>
<rect x="395" y="0" width="25" height="18" fill="#f8f8f8"/>
<rect x="424" y="0" width="25" height="18" fill="#f8f8f8"/>
<rect x="583" y="0" width="25" height="18" fill="#f8f8f8"/>
<rect x="1029" y="0" width="25" height="18" fill="#f8f8f8"/>
<text x="-3.7" y="11.8" font-family="Liberation Sans, Noto Sans CJK SC, sans-serif" font-size="13" letter-spacing="-1.1" fill="#000" stroke="#000" stroke-width="0.3">新订单</text>
<text x="148.8" y="11.8" font-family="Liberation Sans, Noto Sans CJK SC, sans-serif" font-size="13" letter-spacing="-1.15" fill="#000" stroke="#000" stroke-width="0.3">自动交易</text>
<line x1="204.5" y1="0" x2="204.5" y2="17.5" stroke="#a0a0a0" stroke-width="1" shape-rendering="crispEdges"/>
<line x1="242.5" y1="0" x2="242.5" y2="17.5" stroke="#a0a0a0" stroke-width="1" shape-rendering="crispEdges"/>
<line x1="299.5" y1="0" x2="299.5" y2="17.5" stroke="#a0a0a0" stroke-width="1" shape-rendering="crispEdges"/>
<line x1="389.5" y1="0" x2="389.5" y2="17.5" stroke="#a0a0a0" stroke-width="1" shape-rendering="crispEdges"/>
<line x1="394.5" y1="0" x2="394.5" y2="17.5" stroke="#a0a0a0" stroke-width="1" shape-rendering="crispEdges"/>
<line x1="422.5" y1="0" x2="422.5" y2="17.5" stroke="#a0a0a0" stroke-width="1" shape-rendering="crispEdges"/>
<line x1="451.5" y1="0" x2="451.5" y2="17.5" stroke="#a0a0a0" stroke-width="1" shape-rendering="crispEdges"/>
<line x1="572.5" y1="0" x2="572.5" y2="17.5" stroke="#a0a0a0" stroke-width="1" shape-rendering="crispEdges"/>
<line x1="582.5" y1="0" x2="582.5" y2="17.5" stroke="#a0a0a0" stroke-width="1" shape-rendering="crispEdges"/>
<line x1="639.5" y1="0" x2="639.5" y2="17.5" stroke="#a0a0a0" stroke-width="1" shape-rendering="crispEdges"/>
<line x1="878.5" y1="0" x2="878.5" y2="17.5" stroke="#a0a0a0" stroke-width="1" shape-rendering="crispEdges"/>
<line x1="1028.5" y1="0" x2="1028.5" y2="17.5" stroke="#a0a0a0" stroke-width="1" shape-rendering="crispEdges"/>
<line x1="1139.5" y1="0" x2="1139.5" y2="19" stroke="#a0a0a0" stroke-width="1" shape-rendering="crispEdges"/>
<rect x="208" y="0" width="3" height="1" fill="#b4b4b4" shape-rendering="crispEdges"/>
<rect x="208" y="2" width="3" height="1" fill="#b4b4b4" shape-rendering="crispEdges"/>
<rect x="208" y="4" width="3" height="1" fill="#b4b4b4" shape-rendering="crispEdges"/>
<rect x="208" y="6" width="3" height="1" fill="#b4b4b4" shape-rendering="crispEdges"/>
<rect x="208" y="8" width="3" height="1" fill="#b4b4b4" shape-rendering="crispEdges"/>
<rect x="208" y="10" width="3" height="1" fill="#b4b4b4" shape-rendering="crispEdges"/>
<rect x="208" y="12" width="3" height="1" fill="#b4b4b4" shape-rendering="crispEdges"/>
<rect x="208" y="14" width="3" height="1" fill="#b4b4b4" shape-rendering="crispEdges"/>
<rect x="208" y="16" width="3" height="1" fill="#b4b4b4" shape-rendering="crispEdges"/>
<rect x="576" y="0" width="3" height="1" fill="#b4b4b4" shape-rendering="crispEdges"/>
<rect x="576" y="2" width="3" height="1" fill="#b4b4b4" shape-rendering="crispEdges"/>
<rect x="576" y="4" width="3" height="1" fill="#b4b4b4" shape-rendering="crispEdges"/>
<rect x="576" y="6" width="3" height="1" fill="#b4b4b4" shape-rendering="crispEdges"/>
<rect x="576" y="8" width="3" height="1" fill="#b4b4b4" shape-rendering="crispEdges"/>
<rect x="576" y="10" width="3" height="1" fill="#b4b4b4" shape-rendering="crispEdges"/>
<rect x="576" y="12" width="3" height="1" fill="#b4b4b4" shape-rendering="crispEdges"/>
<rect x="576" y="14" width="3" height="1" fill="#b4b4b4" shape-rendering="crispEdges"/>
<rect x="576" y="16" width="3" height="1" fill="#b4b4b4" shape-rendering="crispEdges"/>
<rect x="882" y="0" width="3" height="1" fill="#b4b4b4" shape-rendering="crispEdges"/>
<rect x="882" y="2" width="3" height="1" fill="#b4b4b4" shape-rendering="crispEdges"/>
<rect x="882" y="4" width="3" height="1" fill="#b4b4b4" shape-rendering="crispEdges"/>
<rect x="882" y="6" width="3" height="1" fill="#b4b4b4" shape-rendering="crispEdges"/>
<rect x="882" y="8" width="3" height="1" fill="#b4b4b4" shape-rendering="crispEdges"/>
<rect x="882" y="10" width="3" height="1" fill="#b4b4b4" shape-rendering="crispEdges"/>
<rect x="882" y="12" width="3" height="1" fill="#b4b4b4" shape-rendering="crispEdges"/>
<rect x="882" y="14" width="3" height="1" fill="#b4b4b4" shape-rendering="crispEdges"/>
<rect x="882" y="16" width="3" height="1" fill="#b4b4b4" shape-rendering="crispEdges"/>
<rect x="483.0" y="7" width="5" height="1" fill="#000" shape-rendering="crispEdges"/>
<rect x="484.0" y="8" width="3" height="1" fill="#000" shape-rendering="crispEdges"/>
<rect x="485.0" y="9" width="1" height="1" fill="#000" shape-rendering="crispEdges"/>
<rect x="522.0" y="7" width="5" height="1" fill="#000" shape-rendering="crispEdges"/>
<rect x="523.0" y="8" width="3" height="1" fill="#000" shape-rendering="crispEdges"/>
<rect x="524.0" y="9" width="1" height="1" fill="#000" shape-rendering="crispEdges"/>
<rect x="561.0" y="7" width="5" height="1" fill="#000" shape-rendering="crispEdges"/>
<rect x="562.0" y="8" width="3" height="1" fill="#000" shape-rendering="crispEdges"/>
<rect x="563.0" y="9" width="1" height="1" fill="#000" shape-rendering="crispEdges"/>
<rect x="867.0" y="7" width="5" height="1" fill="#000" shape-rendering="crispEdges"/>
<rect x="868.0" y="8" width="3" height="1" fill="#000" shape-rendering="crispEdges"/>
<rect x="869.0" y="9" width="1" height="1" fill="#000" shape-rendering="crispEdges"/>
<defs><linearGradient id="gb" x1="0" y1="0" x2="1" y2="1"><stop offset="0" stop-color="#f6d84a"/><stop offset="0.6" stop-color="#e8b424"/><stop offset="1" stop-color="#c98f14"/></linearGradient><linearGradient id="cl" x1="0" y1="0" x2="0" y2="1"><stop offset="0" stop-color="#ffffff"/><stop offset="1" stop-color="#c8d8ee"/></linearGradient><linearGradient id="sg" x1="0" y1="0" x2="1" y2="1"><stop offset="0" stop-color="#d8ecd8"/><stop offset="1" stop-color="#6cb66c"/></linearGradient></defs>
<polygon points="50.3,1.2 60.9,9.6 53,16.2 45,10.6" fill="#b07c14" stroke="#9a6a10" stroke-width="0.8" stroke-linejoin="round"/>
<polygon points="50.8,2.2 59.6,9.2 53.2,13.6 46.6,9.4" fill="url(#gb)"/>
<line x1="45.8" y1="11.2" x2="53" y2="15.6" stroke="#e6be4a" stroke-width="1"/>
<polygon points="75.4,-1 85.8,-1 85.8,9.5 75.4,9.5" fill="#2f8cf0"/>
<polygon points="75.4,-1 79,1 79,9.5 75.4,9.5" fill="#58b0f6"/>
<rect x="80" y="3" width="5" height="3.4" fill="#e4f2ff"/><rect x="80.6" y="4.2" width="3.6" height="0.9" fill="#2f7ad8"/>
<path d="M75.6,15.6 a3.3,3.3 0 0 1 0.4,-6.4 a4.2,3.8 0 0 1 7.6,-0.7 a3.7,3.5 0 0 1 3.3,7.1 z" fill="url(#cl)" stroke="#5672a8" stroke-width="1"/>
<path d="M109.2,7.6 L109.4,15.2 A7.6,7.6 0 0 0 114.8,2.4 Z" fill="url(#sg)" opacity="0.85"/>
<path d="M109.4,15 A7.4,7.4 0 0 1 104,2.6" fill="none" stroke="#8aa6e0" stroke-width="1.2"/>
<path d="M109.2,12 A4.4,4.4 0 0 1 106,4.6" fill="none" stroke="#5f86d8" stroke-width="1.2"/>
<path d="M104,2.6 A7.4,7.4 0 0 1 116.2,5.6 A7.6,7.6 0 0 1 112,14.6" fill="none" stroke="#a8c8b8" stroke-width="1"/>
<path d="M106,4.6 A4.4,4.4 0 0 1 113.4,6.4" fill="none" stroke="#a0c4c8" stroke-width="1"/>
<circle cx="109.1" cy="7.4" r="1.8" fill="#2a5cc8"/>
<line x1="109.4" y1="8.6" x2="109.6" y2="15.6" stroke="#22a022" stroke-width="1.5"/>
<polygon points="128.6,6.6 143.6,6.6 142,11 135.8,15.8" fill="#f6d84a" stroke="#c99a1a" stroke-width="0.7"/>
<polygon points="129.5,7.2 136,7.2 135.8,15" fill="#fbe98a"/>
<ellipse cx="136" cy="4.4" rx="7.8" ry="2.3" fill="#58a8e4" stroke="#3a84c8" stroke-width="0.6"/>
<ellipse cx="136" cy="2" rx="3.4" ry="2.4" fill="#7cc0f0"/>
<circle cx="140.4" cy="11.8" r="4.2" fill="#d8281a"/>
<rect x="138.9" y="10.4" width="2.9" height="2.9" fill="#fff"/>
<g stroke="#4a4a4a" stroke-width="1" fill="none" shape-rendering="crispEdges"><line x1="222.5" y1="2" x2="222.5" y2="16"/><line x1="220" y1="13.5" x2="233" y2="13.5"/></g>
<g fill="#4a4a4a"><polygon points="222.5,1 220.8,4 224.2,4"/><polygon points="234.2,13.5 231,11.8 231,15.2"/></g>
<polyline points="231.5,4.5 228.5,4.5 228.5,10.5 226,10.5" fill="none" stroke="#2c8a2c" stroke-width="1.3" shape-rendering="crispEdges"/>
<g stroke="#4a4a4a" stroke-width="1" fill="none" shape-rendering="crispEdges"><line x1="250.5" y1="2" x2="250.5" y2="16"/><line x1="248" y1="13.5" x2="261" y2="13.5"/></g>
<g fill="#4a4a4a"><polygon points="250.5,1 248.8,4 252.2,4"/><polygon points="262.2,13.5 259,11.8 259,15.2"/></g>
<line x1="256.5" y1="0" x2="256.5" y2="12" stroke="#1d6f1d" stroke-width="1" shape-rendering="crispEdges"/>
<rect x="254.5" y="2.5" width="4" height="7" fill="#35c235" stroke="#1d6f1d" stroke-width="1" shape-rendering="crispEdges"/>
<g stroke="#4a4a4a" stroke-width="1" fill="none" shape-rendering="crispEdges"><line x1="278.5" y1="2" x2="278.5" y2="16"/><line x1="276" y1="13.5" x2="289" y2="13.5"/></g>
<g fill="#4a4a4a"><polygon points="278.5,1 276.8,4 280.2,4"/><polygon points="290.2,13.5 287,11.8 287,15.2"/></g>
<path d="M277.5,10.5 C279.5,6 282.5,4.2 284.2,5 C286,5.8 287,8 289,9.5" fill="none" stroke="#2c8a2c" stroke-width="1.2"/>
<line x1="317.8" y1="9.899999999999999" x2="323.2" y2="15.5" stroke="#b98a18" stroke-width="3" stroke-linecap="round"/>
<line x1="318.0" y1="9.899999999999999" x2="323.0" y2="15.1" stroke="#eec84a" stroke-width="1.4" stroke-linecap="round"/>
<circle cx="314.2" cy="6.1" r="5.2" fill="#cfe3f6" stroke="#3b7bc9" stroke-width="1.4"/>
<line x1="311.2" y1="6.1" x2="317.2" y2="6.1" stroke="#2f6fc4" stroke-width="1.6"/>
<line x1="314.2" y1="3.0999999999999996" x2="314.2" y2="9.1" stroke="#2f6fc4" stroke-width="1.6"/>
<line x1="345.8" y1="9.899999999999999" x2="351.2" y2="15.5" stroke="#b98a18" stroke-width="3" stroke-linecap="round"/>
<line x1="346.0" y1="9.899999999999999" x2="351.0" y2="15.1" stroke="#eec84a" stroke-width="1.4" stroke-linecap="round"/>
<circle cx="342.2" cy="6.1" r="5.2" fill="#cfe3f6" stroke="#3b7bc9" stroke-width="1.4"/>
<line x1="339.2" y1="6.1" x2="345.2" y2="6.1" stroke="#2f6fc4" stroke-width="1.6"/>
<rect x="364.5" y="-0.5" width="7.5" height="7.6" fill="#3a9a2e"/>
<rect x="366.0" y="2.7" width="4.5" height="2.6" fill="#e8f0ff"/>
<rect x="372.5" y="-0.5" width="7.5" height="7.6" fill="#2a5bd0"/>
<rect x="374.0" y="2.7" width="4.5" height="2.6" fill="#e8f0ff"/>
<rect x="364.5" y="8" width="7.5" height="7.6" fill="#2a5bd0"/>
<rect x="366.0" y="11.2" width="4.5" height="2.6" fill="#e8f0ff"/>
<rect x="372.5" y="8" width="7.5" height="7.6" fill="#3a9a2e"/>
<rect x="374.0" y="11.2" width="4.5" height="2.6" fill="#e8f0ff"/>
<g stroke="#4a4a4a" stroke-width="1" fill="none" shape-rendering="crispEdges"><line x1="402.5" y1="2" x2="402.5" y2="16"/><line x1="400" y1="13.5" x2="413" y2="13.5"/></g>
<g fill="#4a4a4a"><polygon points="402.5,1 400.8,4 404.2,4"/><polygon points="414.2,13.5 411,11.8 411,15.2"/></g>
<polygon points="407.5,4 407.5,10.6 411.5,7.3" fill="#9be29b" stroke="#27a027" stroke-width="1"/>
<g stroke="#4a4a4a" stroke-width="1" fill="none" shape-rendering="crispEdges"><line x1="430.5" y1="2" x2="430.5" y2="16"/><line x1="428" y1="13.5" x2="441" y2="13.5"/></g>
<g fill="#4a4a4a"><polygon points="430.5,1 428.8,4 432.2,4"/><polygon points="442.2,13.5 439,11.8 439,15.2"/></g>
<line x1="436.5" y1="2" x2="436.5" y2="12" stroke="#2a62b8" stroke-width="1" shape-rendering="crispEdges"/>
<line x1="438" y1="7.5" x2="442" y2="7.5" stroke="#d64a12" stroke-width="1" shape-rendering="crispEdges"/><polygon points="437.2,7.5 440,5.6 440,9.4" fill="#d64a12"/>
<path d="M461.5,0.5 h6.5 l3,3 v9.5 h-9.5 z" fill="#fdfdfd" stroke="#8a8a8a" stroke-width="1"/>
<path d="M464.5,5 v6 M463.5,7.5 h2" stroke="#707070" stroke-width="0.8" fill="none"/>
<path d="M469.5,6.8 h3.2 v4 h4 v3.2 h-4 v4 h-3.2 v-4 h-4 v-3.2 h4 z" fill="#35c02f" stroke="#1f8a1c" stroke-width="0.6"/>
<circle cx="507" cy="7.6" r="6.6" fill="#f4f8fc" stroke="#2463c4" stroke-width="2.2"/>
<path d="M507,3.5 v4.6 h3" fill="none" stroke="#555" stroke-width="1"/>
<rect x="538.5" y="1.5" width="15" height="13" fill="#fff" stroke="#3b78c6" stroke-width="1"/>
<rect x="538.5" y="1.5" width="15" height="2.4" fill="#3b78c6"/>
<polyline points="540.5,7.5 543,6.8 545,7.2 547.5,5.8 549.5,6.3 551.5,5.2" fill="none" stroke="#c03020" stroke-width="1.1"/>
<polyline points="540.5,12.5 543,11.2 545,12 547.5,10.3 549.5,11.5 551.5,10.5" fill="none" stroke="#2a9a2a" stroke-width="1.1"/>
<polygon points="589.8,0.8 589.8,11.6 592.4,9.4 594.6,14.6 596.3,13.8 594.2,8.8 597.8,8.6" fill="#3c3c3c"/>
<g stroke="#4a4a4a" stroke-width="1" shape-rendering="crispEdges"><line x1="622.5" y1="1" x2="622.5" y2="7"/><line x1="622.5" y1="10" x2="622.5" y2="16"/><line x1="615" y1="8.5" x2="621" y2="8.5"/><line x1="624" y1="8.5" x2="630" y2="8.5"/></g>
<line x1="656.5" y1="2" x2="656.5" y2="15" stroke="#4a4a4a" stroke-width="1" shape-rendering="crispEdges"/>
<line x1="679" y1="8.5" x2="691" y2="8.5" stroke="#4a4a4a" stroke-width="1" shape-rendering="crispEdges"/>
<line x1="707" y1="14.8" x2="719" y2="3" stroke="#4a4a4a" stroke-width="1.1"/>
<g stroke="#4a4a4a" stroke-width="0.9" fill="none"><line x1="733" y1="11" x2="745.5" y2="2.5"/><line x1="735" y1="14.5" x2="747" y2="6"/><line x1="736" y1="7.5" x2="737.5" y2="14"/><line x1="739" y1="5.5" x2="740.5" y2="12"/><line x1="742" y1="3.5" x2="743.5" y2="10"/><line x1="744.8" y1="0" x2="745.3" y2="5"/></g>
<text x="743.6" y="16.4" font-family="Liberation Sans, sans-serif" font-size="6.5" font-weight="bold" fill="#333">E</text>
<line x1="761.5" y1="1.5" x2="774.5" y2="1.5" stroke="#555" stroke-width="1" stroke-dasharray="1,1" shape-rendering="crispEdges"/>
<line x1="761.5" y1="4.5" x2="774.5" y2="4.5" stroke="#555" stroke-width="1" stroke-dasharray="1,1" shape-rendering="crispEdges"/>
<line x1="761.5" y1="8.5" x2="774.5" y2="8.5" stroke="#555" stroke-width="1" stroke-dasharray="1,1" shape-rendering="crispEdges"/>
<line x1="761.5" y1="12.5" x2="770.5" y2="12.5" stroke="#555" stroke-width="1" stroke-dasharray="1,1" shape-rendering="crispEdges"/>
<text x="771.6" y="16.4" font-family="Liberation Sans, sans-serif" font-size="6.5" font-weight="bold" fill="#333">F</text>
<text x="792" y="12.8" font-family="Liberation Sans, sans-serif" font-size="12.5" font-weight="bold" fill="#666">A</text>
<rect x="819.5" y="2.5" width="11" height="12" fill="none" stroke="#555" stroke-width="1" stroke-dasharray="1,1" shape-rendering="crispEdges"/>
<text x="821.8" y="13" font-family="Liberation Sans, sans-serif" font-size="11.5" fill="#555">T</text>
<polygon points="846.5,4.5 849.5,1.5 852.5,4.5 849.5,6.2" fill="#444"/>
<polyline points="848.5,8.5 850.8,11 855,5.5" fill="none" stroke="#444" stroke-width="1.4"/>
<polygon points="853.5,12 856.8,9.2 860,12 856.8,14.6" fill="#444"/>
<g font-family="Liberation Sans, sans-serif" font-size="10" fill="#444" letter-spacing="-0.2" text-rendering="geometricPrecision">
<text x="893" y="12">M1</text>
<text x="921.5" y="12">M5</text>
<text x="947.3" y="12">M15</text>
<text x="974.8" y="12">M30</text>
<text x="1006.3" y="12">H1</text>
<text x="1033.3" y="12">H4</text>
<text x="1062.3" y="12">D1</text>
<text x="1089.8" y="12">W1</text>
<text x="1116.3" y="12">MN</text>
</g>
<line x1="1606.6" y1="8.4" x2="1602" y2="12.8" stroke="#1f55c8" stroke-width="2.4" stroke-linecap="round"/>
<circle cx="1609.6" cy="5.4" r="4" fill="#f4f6ff" stroke="#2058d0" stroke-width="1.3"/>
<path d="M1631.5,5.2 h5 a4,4 0 0 1 0,8.8 h-4.5 l-2.6,2.4 l0.3,-2.8 a4.3,4.3 0 0 1 1.8,-8.4 z" fill="#e4e4ec" stroke="#a8a8a8" stroke-width="1"/>
<circle cx="1640.5" cy="5.6" r="8.1" fill="#e03c22"/>
<text x="1640.4" y="9.8" text-anchor="middle" font-family="Liberation Sans, sans-serif" font-size="12" font-weight="bold" fill="#fff">1</text>
</svg>
</body></html>
